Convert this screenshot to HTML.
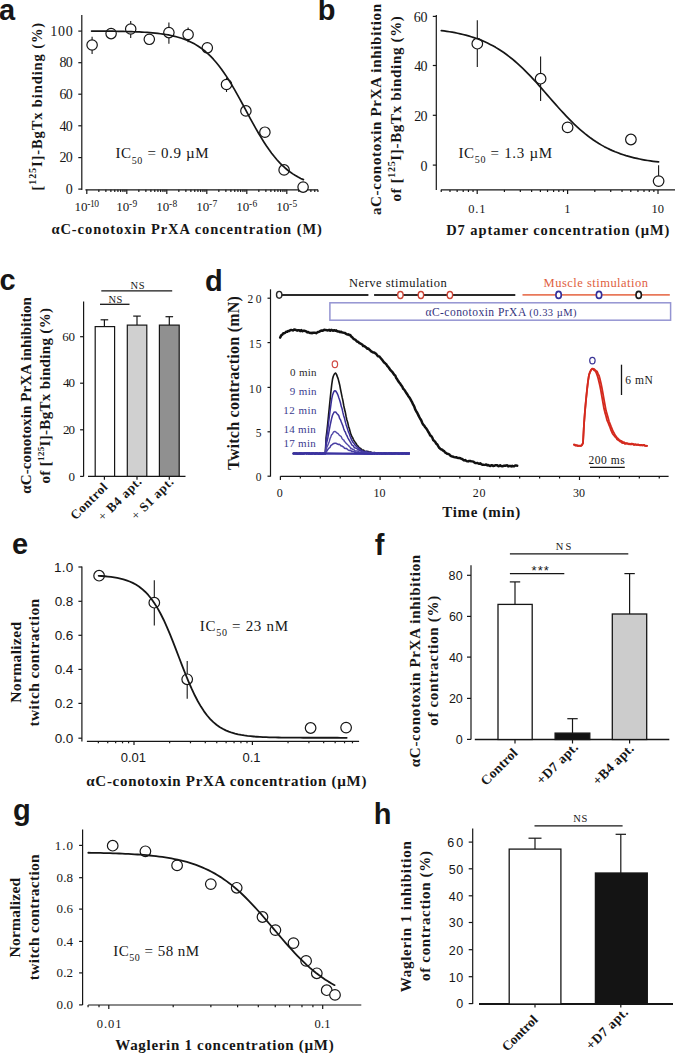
<!DOCTYPE html>
<html><head><meta charset="utf-8"><style>
html,body{margin:0;padding:0;background:#fff;overflow:hidden;}
svg{display:block;}
</style></head><body>
<svg width="675" height="1053" viewBox="0 0 675 1053">
<rect x="0" y="0" width="675" height="1053" fill="#fff"/>
<text x="-1" y="20.4" font-family="'Liberation Sans', sans-serif" font-size="29" font-weight="bold" fill="#161616" text-anchor="start">a</text>
<line x1="81.8" y1="15" x2="81.8" y2="190" stroke="#161616" stroke-width="1.2" stroke-linecap="butt"/>
<line x1="78.3" y1="189.1" x2="81.8" y2="189.1" stroke="#161616" stroke-width="1.2" stroke-linecap="butt"/>
<text x="72.8" y="193.8" font-family="'Liberation Serif', serif" font-size="14" font-weight="normal" fill="#161616" text-anchor="end" textLength="6.6" lengthAdjust="spacing">0</text>
<line x1="78.3" y1="157.6" x2="81.8" y2="157.6" stroke="#161616" stroke-width="1.2" stroke-linecap="butt"/>
<text x="72.8" y="162.3" font-family="'Liberation Serif', serif" font-size="14" font-weight="normal" fill="#161616" text-anchor="end" textLength="13.2" lengthAdjust="spacing">20</text>
<line x1="78.3" y1="125.8" x2="81.8" y2="125.8" stroke="#161616" stroke-width="1.2" stroke-linecap="butt"/>
<text x="72.8" y="130.5" font-family="'Liberation Serif', serif" font-size="14" font-weight="normal" fill="#161616" text-anchor="end" textLength="13.2" lengthAdjust="spacing">40</text>
<line x1="78.3" y1="94.2" x2="81.8" y2="94.2" stroke="#161616" stroke-width="1.2" stroke-linecap="butt"/>
<text x="72.8" y="98.9" font-family="'Liberation Serif', serif" font-size="14" font-weight="normal" fill="#161616" text-anchor="end" textLength="13.2" lengthAdjust="spacing">60</text>
<line x1="78.3" y1="62.7" x2="81.8" y2="62.7" stroke="#161616" stroke-width="1.2" stroke-linecap="butt"/>
<text x="72.8" y="67.4" font-family="'Liberation Serif', serif" font-size="14" font-weight="normal" fill="#161616" text-anchor="end" textLength="13.2" lengthAdjust="spacing">80</text>
<line x1="78.3" y1="31.1" x2="81.8" y2="31.1" stroke="#161616" stroke-width="1.2" stroke-linecap="butt"/>
<text x="72.8" y="35.8" font-family="'Liberation Serif', serif" font-size="14" font-weight="normal" fill="#161616" text-anchor="end" textLength="22.6" lengthAdjust="spacing">100</text>
<line x1="85.4" y1="189.8" x2="318" y2="189.8" stroke="#161616" stroke-width="1.2" stroke-linecap="butt"/>
<line x1="86.8" y1="189.8" x2="86.8" y2="194" stroke="#161616" stroke-width="1.2" stroke-linecap="butt"/>
<line x1="98.84" y1="189.8" x2="98.84" y2="192" stroke="#161616" stroke-width="1.2" stroke-linecap="butt"/>
<line x1="105.88" y1="189.8" x2="105.88" y2="192" stroke="#161616" stroke-width="1.2" stroke-linecap="butt"/>
<line x1="110.88" y1="189.8" x2="110.88" y2="192" stroke="#161616" stroke-width="1.2" stroke-linecap="butt"/>
<line x1="114.76" y1="189.8" x2="114.76" y2="192" stroke="#161616" stroke-width="1.2" stroke-linecap="butt"/>
<line x1="117.93" y1="189.8" x2="117.93" y2="192" stroke="#161616" stroke-width="1.2" stroke-linecap="butt"/>
<line x1="120.6" y1="189.8" x2="120.6" y2="192" stroke="#161616" stroke-width="1.2" stroke-linecap="butt"/>
<line x1="122.92" y1="189.8" x2="122.92" y2="192" stroke="#161616" stroke-width="1.2" stroke-linecap="butt"/>
<line x1="124.97" y1="189.8" x2="124.97" y2="192" stroke="#161616" stroke-width="1.2" stroke-linecap="butt"/>
<line x1="126.8" y1="189.8" x2="126.8" y2="194" stroke="#161616" stroke-width="1.2" stroke-linecap="butt"/>
<line x1="138.84" y1="189.8" x2="138.84" y2="192" stroke="#161616" stroke-width="1.2" stroke-linecap="butt"/>
<line x1="145.88" y1="189.8" x2="145.88" y2="192" stroke="#161616" stroke-width="1.2" stroke-linecap="butt"/>
<line x1="150.88" y1="189.8" x2="150.88" y2="192" stroke="#161616" stroke-width="1.2" stroke-linecap="butt"/>
<line x1="154.76" y1="189.8" x2="154.76" y2="192" stroke="#161616" stroke-width="1.2" stroke-linecap="butt"/>
<line x1="157.93" y1="189.8" x2="157.93" y2="192" stroke="#161616" stroke-width="1.2" stroke-linecap="butt"/>
<line x1="160.6" y1="189.8" x2="160.6" y2="192" stroke="#161616" stroke-width="1.2" stroke-linecap="butt"/>
<line x1="162.92" y1="189.8" x2="162.92" y2="192" stroke="#161616" stroke-width="1.2" stroke-linecap="butt"/>
<line x1="164.97" y1="189.8" x2="164.97" y2="192" stroke="#161616" stroke-width="1.2" stroke-linecap="butt"/>
<line x1="166.8" y1="189.8" x2="166.8" y2="194" stroke="#161616" stroke-width="1.2" stroke-linecap="butt"/>
<line x1="178.84" y1="189.8" x2="178.84" y2="192" stroke="#161616" stroke-width="1.2" stroke-linecap="butt"/>
<line x1="185.88" y1="189.8" x2="185.88" y2="192" stroke="#161616" stroke-width="1.2" stroke-linecap="butt"/>
<line x1="190.88" y1="189.8" x2="190.88" y2="192" stroke="#161616" stroke-width="1.2" stroke-linecap="butt"/>
<line x1="194.76" y1="189.8" x2="194.76" y2="192" stroke="#161616" stroke-width="1.2" stroke-linecap="butt"/>
<line x1="197.93" y1="189.8" x2="197.93" y2="192" stroke="#161616" stroke-width="1.2" stroke-linecap="butt"/>
<line x1="200.6" y1="189.8" x2="200.6" y2="192" stroke="#161616" stroke-width="1.2" stroke-linecap="butt"/>
<line x1="202.92" y1="189.8" x2="202.92" y2="192" stroke="#161616" stroke-width="1.2" stroke-linecap="butt"/>
<line x1="204.97" y1="189.8" x2="204.97" y2="192" stroke="#161616" stroke-width="1.2" stroke-linecap="butt"/>
<line x1="206.8" y1="189.8" x2="206.8" y2="194" stroke="#161616" stroke-width="1.2" stroke-linecap="butt"/>
<line x1="218.84" y1="189.8" x2="218.84" y2="192" stroke="#161616" stroke-width="1.2" stroke-linecap="butt"/>
<line x1="225.88" y1="189.8" x2="225.88" y2="192" stroke="#161616" stroke-width="1.2" stroke-linecap="butt"/>
<line x1="230.88" y1="189.8" x2="230.88" y2="192" stroke="#161616" stroke-width="1.2" stroke-linecap="butt"/>
<line x1="234.76" y1="189.8" x2="234.76" y2="192" stroke="#161616" stroke-width="1.2" stroke-linecap="butt"/>
<line x1="237.93" y1="189.8" x2="237.93" y2="192" stroke="#161616" stroke-width="1.2" stroke-linecap="butt"/>
<line x1="240.6" y1="189.8" x2="240.6" y2="192" stroke="#161616" stroke-width="1.2" stroke-linecap="butt"/>
<line x1="242.92" y1="189.8" x2="242.92" y2="192" stroke="#161616" stroke-width="1.2" stroke-linecap="butt"/>
<line x1="244.97" y1="189.8" x2="244.97" y2="192" stroke="#161616" stroke-width="1.2" stroke-linecap="butt"/>
<line x1="246.8" y1="189.8" x2="246.8" y2="194" stroke="#161616" stroke-width="1.2" stroke-linecap="butt"/>
<line x1="258.84" y1="189.8" x2="258.84" y2="192" stroke="#161616" stroke-width="1.2" stroke-linecap="butt"/>
<line x1="265.88" y1="189.8" x2="265.88" y2="192" stroke="#161616" stroke-width="1.2" stroke-linecap="butt"/>
<line x1="270.88" y1="189.8" x2="270.88" y2="192" stroke="#161616" stroke-width="1.2" stroke-linecap="butt"/>
<line x1="274.76" y1="189.8" x2="274.76" y2="192" stroke="#161616" stroke-width="1.2" stroke-linecap="butt"/>
<line x1="277.93" y1="189.8" x2="277.93" y2="192" stroke="#161616" stroke-width="1.2" stroke-linecap="butt"/>
<line x1="280.6" y1="189.8" x2="280.6" y2="192" stroke="#161616" stroke-width="1.2" stroke-linecap="butt"/>
<line x1="282.92" y1="189.8" x2="282.92" y2="192" stroke="#161616" stroke-width="1.2" stroke-linecap="butt"/>
<line x1="284.97" y1="189.8" x2="284.97" y2="192" stroke="#161616" stroke-width="1.2" stroke-linecap="butt"/>
<line x1="286.8" y1="189.8" x2="286.8" y2="194" stroke="#161616" stroke-width="1.2" stroke-linecap="butt"/>
<line x1="298.84" y1="189.8" x2="298.84" y2="192" stroke="#161616" stroke-width="1.2" stroke-linecap="butt"/>
<line x1="305.88" y1="189.8" x2="305.88" y2="192" stroke="#161616" stroke-width="1.2" stroke-linecap="butt"/>
<line x1="310.88" y1="189.8" x2="310.88" y2="192" stroke="#161616" stroke-width="1.2" stroke-linecap="butt"/>
<line x1="314.76" y1="189.8" x2="314.76" y2="192" stroke="#161616" stroke-width="1.2" stroke-linecap="butt"/>
<line x1="317.93" y1="189.8" x2="317.93" y2="192" stroke="#161616" stroke-width="1.2" stroke-linecap="butt"/>
<text x="74.5" y="211" font-family="'Liberation Serif', serif" font-size="13" font-weight="normal" fill="#161616" text-anchor="start">10</text>
<text x="87.3" y="207.4" font-family="'Liberation Serif', serif" font-size="9.5" font-weight="normal" fill="#161616" text-anchor="start" textLength="11.6" lengthAdjust="spacing">-10</text>
<text x="116.2" y="211" font-family="'Liberation Serif', serif" font-size="13" font-weight="normal" fill="#161616" text-anchor="start">10</text>
<text x="129" y="207.4" font-family="'Liberation Serif', serif" font-size="9.5" font-weight="normal" fill="#161616" text-anchor="start" textLength="8.2" lengthAdjust="spacing">-9</text>
<text x="156.2" y="211" font-family="'Liberation Serif', serif" font-size="13" font-weight="normal" fill="#161616" text-anchor="start">10</text>
<text x="169" y="207.4" font-family="'Liberation Serif', serif" font-size="9.5" font-weight="normal" fill="#161616" text-anchor="start" textLength="8.2" lengthAdjust="spacing">-8</text>
<text x="196.2" y="211" font-family="'Liberation Serif', serif" font-size="13" font-weight="normal" fill="#161616" text-anchor="start">10</text>
<text x="209" y="207.4" font-family="'Liberation Serif', serif" font-size="9.5" font-weight="normal" fill="#161616" text-anchor="start" textLength="8.2" lengthAdjust="spacing">-7</text>
<text x="236.2" y="211" font-family="'Liberation Serif', serif" font-size="13" font-weight="normal" fill="#161616" text-anchor="start">10</text>
<text x="249" y="207.4" font-family="'Liberation Serif', serif" font-size="9.5" font-weight="normal" fill="#161616" text-anchor="start" textLength="8.2" lengthAdjust="spacing">-6</text>
<text x="276.2" y="211" font-family="'Liberation Serif', serif" font-size="13" font-weight="normal" fill="#161616" text-anchor="start">10</text>
<text x="289" y="207.4" font-family="'Liberation Serif', serif" font-size="9.5" font-weight="normal" fill="#161616" text-anchor="start" textLength="8.2" lengthAdjust="spacing">-5</text>
<line x1="92.1" y1="36.7" x2="92.1" y2="54.1" stroke="#161616" stroke-width="1.1" stroke-linecap="butt"/>
<circle cx="92.1" cy="45" r="5.2" stroke="#161616" stroke-width="1.2" fill="#fff"/>
<circle cx="111.1" cy="33.6" r="5.2" stroke="#161616" stroke-width="1.2" fill="#fff"/>
<line x1="130.7" y1="21" x2="130.7" y2="37.9" stroke="#161616" stroke-width="1.1" stroke-linecap="butt"/>
<circle cx="130.7" cy="29" r="5.2" stroke="#161616" stroke-width="1.2" fill="#fff"/>
<circle cx="149.3" cy="39.3" r="5.2" stroke="#161616" stroke-width="1.2" fill="#fff"/>
<line x1="168.9" y1="22.4" x2="168.9" y2="43.8" stroke="#161616" stroke-width="1.1" stroke-linecap="butt"/>
<circle cx="168.9" cy="32.6" r="5.2" stroke="#161616" stroke-width="1.2" fill="#fff"/>
<line x1="188.1" y1="27.4" x2="188.1" y2="42.2" stroke="#161616" stroke-width="1.1" stroke-linecap="butt"/>
<circle cx="188.1" cy="34.5" r="5.2" stroke="#161616" stroke-width="1.2" fill="#fff"/>
<circle cx="207.3" cy="47.8" r="5.2" stroke="#161616" stroke-width="1.2" fill="#fff"/>
<line x1="226.5" y1="77.7" x2="226.5" y2="92" stroke="#161616" stroke-width="1.1" stroke-linecap="butt"/>
<circle cx="226.5" cy="84.5" r="5.2" stroke="#161616" stroke-width="1.2" fill="#fff"/>
<circle cx="245.9" cy="110.9" r="5.2" stroke="#161616" stroke-width="1.2" fill="#fff"/>
<circle cx="264.9" cy="132.2" r="5.2" stroke="#161616" stroke-width="1.2" fill="#fff"/>
<circle cx="284.1" cy="169.9" r="5.2" stroke="#161616" stroke-width="1.2" fill="#fff"/>
<circle cx="303.1" cy="187.1" r="5.2" stroke="#161616" stroke-width="1.2" fill="#fff"/>
<path d="M91.6 31.03 L94.25 31.05 L96.89 31.06 L99.54 31.08 L102.19 31.1 L104.84 31.13 L107.48 31.16 L110.13 31.19 L112.78 31.22 L115.43 31.26 L118.07 31.31 L120.72 31.36 L123.37 31.42 L126.02 31.48 L128.66 31.56 L131.31 31.64 L133.96 31.74 L136.61 31.84 L139.25 31.96 L141.9 32.1 L144.55 32.26 L147.2 32.43 L149.84 32.63 L152.49 32.86 L155.14 33.11 L157.79 33.4 L160.44 33.72 L163.08 34.08 L165.73 34.49 L168.38 34.96 L171.02 35.48 L173.67 36.06 L176.32 36.72 L178.97 37.45 L181.62 38.28 L184.26 39.21 L186.91 40.24 L189.56 41.4 L192.2 42.68 L194.85 44.12 L197.5 45.7 L200.15 47.46 L202.79 49.4 L205.44 51.53 L208.09 53.87 L210.74 56.43 L213.38 59.21 L216.03 62.22 L218.68 65.47 L221.33 68.95 L223.97 72.67 L226.62 76.62 L229.27 80.77 L231.92 85.13 L234.56 89.66 L237.21 94.33 L239.86 99.13 L242.51 104.01 L245.16 108.94 L247.8 113.88 L250.45 118.79 L253.1 123.63 L255.74 128.37 L258.39 132.99 L261.04 137.43 L263.69 141.7 L266.33 145.76 L268.98 149.59 L271.63 153.2 L274.28 156.57 L276.92 159.71 L279.57 162.61 L282.22 165.29 L284.87 167.74 L287.51 169.98 L290.16 172.02 L292.81 173.87 L295.46 175.54 L298.1 177.05 L300.75 178.41 L303.4 179.64" fill="none" stroke="#161616" stroke-width="1.7" stroke-linejoin="round" stroke-linecap="round"/>
<text x="115.4" y="158" font-family="'Liberation Serif', serif" font-size="15" font-weight="normal" fill="#161616" text-anchor="start" textLength="93.2" lengthAdjust="spacing">IC<tspan font-size="10" dy="5.5">50</tspan><tspan dy="-5.5"> = 0.9 µM</tspan></text>
<text x="51.4" y="233.8" font-family="'Liberation Serif', serif" font-size="14.5" font-weight="bold" fill="#161616" text-anchor="start" textLength="270.5" lengthAdjust="spacing">αC-conotoxin PrXA concentration (M)</text>
<text transform="translate(41.55 106.65) rotate(-90)" font-family="'Liberation Serif', serif" font-size="14.5" font-weight="bold" fill="#161616" text-anchor="middle" textLength="167.7" lengthAdjust="spacing">[<tspan font-size="10" dy="-5.5">125</tspan><tspan dy="5.5">I]-BgTx binding (%)</tspan></text>
<text x="317.8" y="20.4" font-family="'Liberation Sans', sans-serif" font-size="29" font-weight="bold" fill="#161616" text-anchor="start">b</text>
<line x1="436.3" y1="15" x2="436.3" y2="190" stroke="#161616" stroke-width="1.2" stroke-linecap="butt"/>
<line x1="432.8" y1="16.4" x2="436.3" y2="16.4" stroke="#161616" stroke-width="1.2" stroke-linecap="butt"/>
<text x="427.5" y="21.9" font-family="'Liberation Serif', serif" font-size="14" font-weight="normal" fill="#161616" text-anchor="end" textLength="13.8" lengthAdjust="spacing">60</text>
<line x1="432.8" y1="65.5" x2="436.3" y2="65.5" stroke="#161616" stroke-width="1.2" stroke-linecap="butt"/>
<text x="427.5" y="71" font-family="'Liberation Serif', serif" font-size="14" font-weight="normal" fill="#161616" text-anchor="end" textLength="13.2" lengthAdjust="spacing">40</text>
<line x1="432.8" y1="115.3" x2="436.3" y2="115.3" stroke="#161616" stroke-width="1.2" stroke-linecap="butt"/>
<text x="427.5" y="120.8" font-family="'Liberation Serif', serif" font-size="14" font-weight="normal" fill="#161616" text-anchor="end" textLength="13.2" lengthAdjust="spacing">20</text>
<line x1="432.8" y1="165.1" x2="436.3" y2="165.1" stroke="#161616" stroke-width="1.2" stroke-linecap="butt"/>
<text x="427.5" y="170.6" font-family="'Liberation Serif', serif" font-size="14" font-weight="normal" fill="#161616" text-anchor="end" textLength="6.6" lengthAdjust="spacing">0</text>
<line x1="440.8" y1="189.9" x2="675" y2="189.9" stroke="#161616" stroke-width="1.2" stroke-linecap="butt"/>
<line x1="477.2" y1="189.9" x2="477.2" y2="194" stroke="#161616" stroke-width="1.2" stroke-linecap="butt"/>
<text x="476.9" y="212.7" font-family="'Liberation Serif', serif" font-size="12.5" font-weight="normal" fill="#161616" text-anchor="middle" textLength="17.3" lengthAdjust="spacing">0.1</text>
<line x1="567.6" y1="189.9" x2="567.6" y2="194" stroke="#161616" stroke-width="1.2" stroke-linecap="butt"/>
<text x="567.3" y="212.7" font-family="'Liberation Serif', serif" font-size="12.5" font-weight="normal" fill="#161616" text-anchor="middle" textLength="6.2" lengthAdjust="spacing">1</text>
<line x1="658" y1="189.9" x2="658" y2="194" stroke="#161616" stroke-width="1.2" stroke-linecap="butt"/>
<text x="657.7" y="212.7" font-family="'Liberation Serif', serif" font-size="12.5" font-weight="normal" fill="#161616" text-anchor="middle" textLength="12.4" lengthAdjust="spacing">10</text>
<line x1="441.23" y1="189.9" x2="441.23" y2="192" stroke="#161616" stroke-width="1.2" stroke-linecap="butt"/>
<line x1="449.99" y1="189.9" x2="449.99" y2="192" stroke="#161616" stroke-width="1.2" stroke-linecap="butt"/>
<line x1="457.14" y1="189.9" x2="457.14" y2="192" stroke="#161616" stroke-width="1.2" stroke-linecap="butt"/>
<line x1="463.2" y1="189.9" x2="463.2" y2="192" stroke="#161616" stroke-width="1.2" stroke-linecap="butt"/>
<line x1="468.44" y1="189.9" x2="468.44" y2="192" stroke="#161616" stroke-width="1.2" stroke-linecap="butt"/>
<line x1="473.06" y1="189.9" x2="473.06" y2="192" stroke="#161616" stroke-width="1.2" stroke-linecap="butt"/>
<line x1="504.41" y1="189.9" x2="504.41" y2="192" stroke="#161616" stroke-width="1.2" stroke-linecap="butt"/>
<line x1="520.33" y1="189.9" x2="520.33" y2="192" stroke="#161616" stroke-width="1.2" stroke-linecap="butt"/>
<line x1="531.63" y1="189.9" x2="531.63" y2="192" stroke="#161616" stroke-width="1.2" stroke-linecap="butt"/>
<line x1="540.39" y1="189.9" x2="540.39" y2="192" stroke="#161616" stroke-width="1.2" stroke-linecap="butt"/>
<line x1="547.54" y1="189.9" x2="547.54" y2="192" stroke="#161616" stroke-width="1.2" stroke-linecap="butt"/>
<line x1="553.6" y1="189.9" x2="553.6" y2="192" stroke="#161616" stroke-width="1.2" stroke-linecap="butt"/>
<line x1="558.84" y1="189.9" x2="558.84" y2="192" stroke="#161616" stroke-width="1.2" stroke-linecap="butt"/>
<line x1="563.46" y1="189.9" x2="563.46" y2="192" stroke="#161616" stroke-width="1.2" stroke-linecap="butt"/>
<line x1="594.81" y1="189.9" x2="594.81" y2="192" stroke="#161616" stroke-width="1.2" stroke-linecap="butt"/>
<line x1="610.73" y1="189.9" x2="610.73" y2="192" stroke="#161616" stroke-width="1.2" stroke-linecap="butt"/>
<line x1="622.03" y1="189.9" x2="622.03" y2="192" stroke="#161616" stroke-width="1.2" stroke-linecap="butt"/>
<line x1="630.79" y1="189.9" x2="630.79" y2="192" stroke="#161616" stroke-width="1.2" stroke-linecap="butt"/>
<line x1="637.94" y1="189.9" x2="637.94" y2="192" stroke="#161616" stroke-width="1.2" stroke-linecap="butt"/>
<line x1="644" y1="189.9" x2="644" y2="192" stroke="#161616" stroke-width="1.2" stroke-linecap="butt"/>
<line x1="649.24" y1="189.9" x2="649.24" y2="192" stroke="#161616" stroke-width="1.2" stroke-linecap="butt"/>
<line x1="653.86" y1="189.9" x2="653.86" y2="192" stroke="#161616" stroke-width="1.2" stroke-linecap="butt"/>
<line x1="477.3" y1="20.3" x2="477.3" y2="67" stroke="#161616" stroke-width="1.1" stroke-linecap="butt"/>
<circle cx="477.3" cy="43.7" r="5.3" stroke="#161616" stroke-width="1.2" fill="#fff"/>
<line x1="540.6" y1="56.6" x2="540.6" y2="101" stroke="#161616" stroke-width="1.1" stroke-linecap="butt"/>
<circle cx="540.6" cy="78.7" r="5.3" stroke="#161616" stroke-width="1.2" fill="#fff"/>
<circle cx="567.6" cy="127.4" r="5.3" stroke="#161616" stroke-width="1.2" fill="#fff"/>
<circle cx="630.9" cy="139.5" r="5.3" stroke="#161616" stroke-width="1.2" fill="#fff"/>
<line x1="658.6" y1="165.3" x2="658.6" y2="176" stroke="#161616" stroke-width="1.1" stroke-linecap="butt"/>
<circle cx="658.6" cy="181.1" r="5.3" stroke="#161616" stroke-width="1.2" fill="#fff"/>
<path d="M441.3 30.58 L444.02 30.93 L446.73 31.32 L449.45 31.74 L452.17 32.2 L454.88 32.7 L457.6 33.24 L460.31 33.83 L463.03 34.47 L465.75 35.16 L468.46 35.9 L471.18 36.71 L473.9 37.58 L476.61 38.52 L479.33 39.53 L482.04 40.62 L484.76 41.79 L487.48 43.04 L490.19 44.39 L492.91 45.82 L495.62 47.36 L498.34 48.99 L501.06 50.72 L503.77 52.56 L506.49 54.51 L509.21 56.56 L511.92 58.72 L514.64 60.99 L517.36 63.37 L520.07 65.84 L522.79 68.42 L525.5 71.08 L528.22 73.84 L530.94 76.68 L533.65 79.58 L536.37 82.55 L539.09 85.58 L541.8 88.64 L544.52 91.74 L547.23 94.85 L549.95 97.96 L552.67 101.07 L555.38 104.16 L558.1 107.22 L560.82 110.23 L563.53 113.19 L566.25 116.08 L568.96 118.9 L571.68 121.64 L574.4 124.29 L577.11 126.84 L579.83 129.29 L582.55 131.64 L585.26 133.89 L587.98 136.03 L590.69 138.06 L593.41 139.98 L596.13 141.8 L598.84 143.51 L601.56 145.12 L604.27 146.63 L606.99 148.05 L609.71 149.37 L612.42 150.61 L615.14 151.76 L617.86 152.83 L620.57 153.83 L623.29 154.75 L626 155.61 L628.72 156.4 L631.44 157.13 L634.15 157.81 L636.87 158.44 L639.59 159.02 L642.3 159.55 L645.02 160.04 L647.74 160.49 L650.45 160.9 L653.17 161.29 L655.88 161.64 L658.6 161.96" fill="none" stroke="#161616" stroke-width="1.7" stroke-linejoin="round" stroke-linecap="round"/>
<text x="458.4" y="157.8" font-family="'Liberation Serif', serif" font-size="15" font-weight="normal" fill="#161616" text-anchor="start" textLength="93.7" lengthAdjust="spacing">IC<tspan font-size="10" dy="5.5">50</tspan><tspan dy="-5.5"> = 1.3 µM</tspan></text>
<text x="446.2" y="234.8" font-family="'Liberation Serif', serif" font-size="14.5" font-weight="bold" fill="#161616" text-anchor="start" textLength="223.2" lengthAdjust="spacing">D7 aptamer concentration (µM)</text>
<text transform="translate(381 109.5) rotate(-90)" font-family="'Liberation Serif', serif" font-size="15" font-weight="bold" fill="#161616" text-anchor="middle" textLength="211.2" lengthAdjust="spacing">aC-conotoxin PrXA inhibition</text>
<text transform="translate(400.8 108.9) rotate(-90)" font-family="'Liberation Serif', serif" font-size="15" font-weight="bold" fill="#161616" text-anchor="middle" textLength="185.4" lengthAdjust="spacing">of [<tspan font-size="10" dy="-6">125</tspan><tspan dy="6">I]-BgTx binding (%)</tspan></text>
<text x="-0.6" y="290.3" font-family="'Liberation Sans', sans-serif" font-size="29" font-weight="bold" fill="#161616" text-anchor="start">c</text>
<line x1="83.6" y1="301.5" x2="83.6" y2="476.5" stroke="#161616" stroke-width="1.2" stroke-linecap="butt"/>
<line x1="80.1" y1="336.7" x2="83.6" y2="336.7" stroke="#161616" stroke-width="1.2" stroke-linecap="butt"/>
<text x="75.1" y="340.9" font-family="'Liberation Serif', serif" font-size="13" font-weight="normal" fill="#161616" text-anchor="end" textLength="12.8" lengthAdjust="spacing">60</text>
<line x1="80.1" y1="383.2" x2="83.6" y2="383.2" stroke="#161616" stroke-width="1.2" stroke-linecap="butt"/>
<text x="75.1" y="387.4" font-family="'Liberation Serif', serif" font-size="13" font-weight="normal" fill="#161616" text-anchor="end" textLength="12.2" lengthAdjust="spacing">40</text>
<line x1="80.1" y1="429.8" x2="83.6" y2="429.8" stroke="#161616" stroke-width="1.2" stroke-linecap="butt"/>
<text x="75.1" y="434" font-family="'Liberation Serif', serif" font-size="13" font-weight="normal" fill="#161616" text-anchor="end" textLength="12.2" lengthAdjust="spacing">20</text>
<line x1="80.1" y1="476.4" x2="83.6" y2="476.4" stroke="#161616" stroke-width="1.2" stroke-linecap="butt"/>
<text x="75.1" y="480.6" font-family="'Liberation Serif', serif" font-size="13" font-weight="normal" fill="#161616" text-anchor="end" textLength="6.1" lengthAdjust="spacing">0</text>
<line x1="88" y1="476.3" x2="185.5" y2="476.3" stroke="#161616" stroke-width="1.2" stroke-linecap="butt"/>
<line x1="104.4" y1="319.8" x2="104.4" y2="326.6" stroke="#161616" stroke-width="1.2" stroke-linecap="butt"/>
<line x1="100.6" y1="319.8" x2="108.2" y2="319.8" stroke="#161616" stroke-width="1.2" stroke-linecap="butt"/>
<rect x="95.2" y="326.6" width="19.4" height="149.7" fill="#ffffff" stroke="#161616" stroke-width="1.2"/>
<line x1="104.4" y1="476.3" x2="104.4" y2="479.8" stroke="#161616" stroke-width="1.2" stroke-linecap="butt"/>
<line x1="137" y1="316.1" x2="137" y2="325.1" stroke="#161616" stroke-width="1.2" stroke-linecap="butt"/>
<line x1="133.2" y1="316.1" x2="140.8" y2="316.1" stroke="#161616" stroke-width="1.2" stroke-linecap="butt"/>
<rect x="127.3" y="325.1" width="19.5" height="151.2" fill="#d0d0d0" stroke="#161616" stroke-width="1.2"/>
<line x1="137" y1="476.3" x2="137" y2="479.8" stroke="#161616" stroke-width="1.2" stroke-linecap="butt"/>
<line x1="169.3" y1="316.7" x2="169.3" y2="325.1" stroke="#161616" stroke-width="1.2" stroke-linecap="butt"/>
<line x1="165.5" y1="316.7" x2="173.1" y2="316.7" stroke="#161616" stroke-width="1.2" stroke-linecap="butt"/>
<rect x="159.4" y="325.1" width="19.8" height="151.2" fill="#909090" stroke="#161616" stroke-width="1.2"/>
<line x1="169.3" y1="476.3" x2="169.3" y2="479.8" stroke="#161616" stroke-width="1.2" stroke-linecap="butt"/>
<line x1="101.3" y1="290.8" x2="172.2" y2="290.8" stroke="#161616" stroke-width="1.3" stroke-linecap="butt"/>
<text x="137.5" y="288.6" font-family="'Liberation Serif', serif" font-size="10.5" font-weight="normal" fill="#161616" text-anchor="middle" textLength="14.2" lengthAdjust="spacing">NS</text>
<line x1="100" y1="304.3" x2="129.5" y2="304.3" stroke="#161616" stroke-width="1.3" stroke-linecap="butt"/>
<text x="115.4" y="302.6" font-family="'Liberation Serif', serif" font-size="10.5" font-weight="normal" fill="#161616" text-anchor="middle" textLength="13.8" lengthAdjust="spacing">NS</text>
<text transform="translate(108.2 488) rotate(-45)" font-family="'Liberation Serif', serif" font-size="13" font-weight="bold" fill="#161616" text-anchor="end" textLength="46.14" lengthAdjust="spacing">Control</text>
<text transform="translate(142.4 482.4) rotate(-45)" font-family="'Liberation Serif', serif" font-size="13" font-weight="bold" fill="#161616" text-anchor="end" textLength="55.69" lengthAdjust="spacing"><tspan font-weight="normal">+</tspan> B4 apt.</text>
<text transform="translate(174.2 482.8) rotate(-45)" font-family="'Liberation Serif', serif" font-size="13" font-weight="bold" fill="#161616" text-anchor="end" textLength="53.83" lengthAdjust="spacing"><tspan font-weight="normal">+</tspan> S1 apt.</text>
<text transform="translate(30.95 395.45) rotate(-90)" font-family="'Liberation Serif', serif" font-size="15" font-weight="bold" fill="#161616" text-anchor="middle" textLength="196.7" lengthAdjust="spacing">αC-conotoxin PrXA inhibition</text>
<text transform="translate(50.45 395.75) rotate(-90)" font-family="'Liberation Serif', serif" font-size="15" font-weight="bold" fill="#161616" text-anchor="middle" textLength="175.5" lengthAdjust="spacing">of [<tspan font-size="9" dy="-6">125</tspan><tspan dy="6">I]-BgTx binding (%)</tspan></text>
<text x="205.1" y="290.9" font-family="'Liberation Sans', sans-serif" font-size="29" font-weight="bold" fill="#161616" text-anchor="start">d</text>
<line x1="270.5" y1="289.3" x2="270.5" y2="476.6" stroke="#161616" stroke-width="1.2" stroke-linecap="butt"/>
<line x1="267.5" y1="298.2" x2="270.5" y2="298.2" stroke="#161616" stroke-width="1.2" stroke-linecap="butt"/>
<text x="261.5" y="303.4" font-family="'Liberation Serif', serif" font-size="11.5" font-weight="normal" fill="#161616" text-anchor="end" textLength="14.1" lengthAdjust="spacing">20</text>
<line x1="267.5" y1="342.6" x2="270.5" y2="342.6" stroke="#161616" stroke-width="1.2" stroke-linecap="butt"/>
<text x="261.5" y="347.8" font-family="'Liberation Serif', serif" font-size="11.5" font-weight="normal" fill="#161616" text-anchor="end" textLength="12.5" lengthAdjust="spacing">15</text>
<line x1="267.5" y1="387.4" x2="270.5" y2="387.4" stroke="#161616" stroke-width="1.2" stroke-linecap="butt"/>
<text x="261.5" y="392.6" font-family="'Liberation Serif', serif" font-size="11.5" font-weight="normal" fill="#161616" text-anchor="end" textLength="12.5" lengthAdjust="spacing">10</text>
<line x1="267.5" y1="431.8" x2="270.5" y2="431.8" stroke="#161616" stroke-width="1.2" stroke-linecap="butt"/>
<text x="261.5" y="437" font-family="'Liberation Serif', serif" font-size="11.5" font-weight="normal" fill="#161616" text-anchor="end" textLength="5.6" lengthAdjust="spacing">5</text>
<line x1="267.5" y1="476.2" x2="270.5" y2="476.2" stroke="#161616" stroke-width="1.2" stroke-linecap="butt"/>
<text x="261.5" y="481.4" font-family="'Liberation Serif', serif" font-size="11.5" font-weight="normal" fill="#161616" text-anchor="end" textLength="5.6" lengthAdjust="spacing">0</text>
<line x1="280.4" y1="476.3" x2="668.6" y2="476.3" stroke="#161616" stroke-width="1.2" stroke-linecap="butt"/>
<line x1="280.4" y1="476.3" x2="280.4" y2="480" stroke="#161616" stroke-width="1.2" stroke-linecap="butt"/>
<line x1="300.34" y1="476.3" x2="300.34" y2="478.5" stroke="#161616" stroke-width="1.2" stroke-linecap="butt"/>
<line x1="320.28" y1="476.3" x2="320.28" y2="478.5" stroke="#161616" stroke-width="1.2" stroke-linecap="butt"/>
<line x1="340.22" y1="476.3" x2="340.22" y2="478.5" stroke="#161616" stroke-width="1.2" stroke-linecap="butt"/>
<line x1="360.16" y1="476.3" x2="360.16" y2="478.5" stroke="#161616" stroke-width="1.2" stroke-linecap="butt"/>
<line x1="380.1" y1="476.3" x2="380.1" y2="480" stroke="#161616" stroke-width="1.2" stroke-linecap="butt"/>
<line x1="400.04" y1="476.3" x2="400.04" y2="478.5" stroke="#161616" stroke-width="1.2" stroke-linecap="butt"/>
<line x1="419.98" y1="476.3" x2="419.98" y2="478.5" stroke="#161616" stroke-width="1.2" stroke-linecap="butt"/>
<line x1="439.92" y1="476.3" x2="439.92" y2="478.5" stroke="#161616" stroke-width="1.2" stroke-linecap="butt"/>
<line x1="459.86" y1="476.3" x2="459.86" y2="478.5" stroke="#161616" stroke-width="1.2" stroke-linecap="butt"/>
<line x1="479.8" y1="476.3" x2="479.8" y2="480" stroke="#161616" stroke-width="1.2" stroke-linecap="butt"/>
<line x1="499.74" y1="476.3" x2="499.74" y2="478.5" stroke="#161616" stroke-width="1.2" stroke-linecap="butt"/>
<line x1="519.68" y1="476.3" x2="519.68" y2="478.5" stroke="#161616" stroke-width="1.2" stroke-linecap="butt"/>
<line x1="539.62" y1="476.3" x2="539.62" y2="478.5" stroke="#161616" stroke-width="1.2" stroke-linecap="butt"/>
<line x1="559.56" y1="476.3" x2="559.56" y2="478.5" stroke="#161616" stroke-width="1.2" stroke-linecap="butt"/>
<line x1="579.5" y1="476.3" x2="579.5" y2="480" stroke="#161616" stroke-width="1.2" stroke-linecap="butt"/>
<line x1="599.44" y1="476.3" x2="599.44" y2="478.5" stroke="#161616" stroke-width="1.2" stroke-linecap="butt"/>
<line x1="619.38" y1="476.3" x2="619.38" y2="478.5" stroke="#161616" stroke-width="1.2" stroke-linecap="butt"/>
<line x1="639.32" y1="476.3" x2="639.32" y2="478.5" stroke="#161616" stroke-width="1.2" stroke-linecap="butt"/>
<line x1="659.26" y1="476.3" x2="659.26" y2="478.5" stroke="#161616" stroke-width="1.2" stroke-linecap="butt"/>
<text x="279.8" y="497.4" font-family="'Liberation Serif', serif" font-size="12" font-weight="normal" fill="#161616" text-anchor="middle" textLength="6" lengthAdjust="spacing">0</text>
<text x="379.5" y="497.4" font-family="'Liberation Serif', serif" font-size="12" font-weight="normal" fill="#161616" text-anchor="middle" textLength="12" lengthAdjust="spacing">10</text>
<text x="479.2" y="497.4" font-family="'Liberation Serif', serif" font-size="12" font-weight="normal" fill="#161616" text-anchor="middle" textLength="12.8" lengthAdjust="spacing">20</text>
<text x="578.9" y="497.4" font-family="'Liberation Serif', serif" font-size="12" font-weight="normal" fill="#161616" text-anchor="middle" textLength="12" lengthAdjust="spacing">30</text>
<text x="442.3" y="516.8" font-family="'Liberation Serif', serif" font-size="15" font-weight="bold" fill="#161616" text-anchor="start" textLength="78" lengthAdjust="spacing">Time (min)</text>
<text transform="translate(239.2 383) rotate(-90)" font-family="'Liberation Serif', serif" font-size="16" font-weight="bold" fill="#161616" text-anchor="middle" textLength="173.8" lengthAdjust="spacing">Twitch contraction (mN)</text>
<line x1="282" y1="295" x2="368.4" y2="295" stroke="#2a2a2a" stroke-width="1.8" stroke-linecap="butt"/>
<line x1="374.1" y1="295" x2="515.3" y2="295" stroke="#2a2a2a" stroke-width="1.8" stroke-linecap="butt"/>
<line x1="522.5" y1="294.9" x2="669.8" y2="294.9" stroke="#e8785a" stroke-width="1.9" stroke-linecap="butt"/>
<ellipse cx="279.2" cy="294.8" rx="2.7" ry="3.4" stroke="#2a2a2a" stroke-width="1.4" fill="#fff"/>
<ellipse cx="400.4" cy="295" rx="2.7" ry="3.5" stroke="#cc4436" stroke-width="1.4" fill="#fff"/>
<ellipse cx="420.9" cy="295" rx="2.7" ry="3.5" stroke="#cc4436" stroke-width="1.4" fill="#fff"/>
<ellipse cx="449.9" cy="295" rx="2.7" ry="3.5" stroke="#cc4436" stroke-width="1.4" fill="#fff"/>
<ellipse cx="558.6" cy="294.9" rx="2.7" ry="3.5" stroke="#34309a" stroke-width="1.6" fill="#fff"/>
<ellipse cx="599" cy="294.9" rx="2.7" ry="3.5" stroke="#34309a" stroke-width="1.6" fill="#fff"/>
<ellipse cx="638.7" cy="294.9" rx="2.7" ry="3.5" stroke="#1a1a1a" stroke-width="1.6" fill="#fff"/>
<text x="349.1" y="287.4" font-family="'Liberation Serif', serif" font-size="12.5" font-weight="normal" fill="#161616" text-anchor="start" textLength="97.7" lengthAdjust="spacing">Nerve stimulation</text>
<text x="543.6" y="286.9" font-family="'Liberation Serif', serif" font-size="12.5" font-weight="normal" fill="#e0603e" text-anchor="start" textLength="104.4" lengthAdjust="spacing">Muscle stimulation</text>
<rect x="329.9" y="302.8" width="340.7" height="17.4" fill="none" stroke="#9494d2" stroke-width="1.5"/>
<text x="425.4" y="316" font-family="'Liberation Serif', serif" font-size="11.5" font-weight="normal" fill="#34347e" text-anchor="start" textLength="151.1" lengthAdjust="spacing">αC-conotoxin PrXA <tspan font-size="10.5">(0.33 µM)</tspan></text>
<path d="M280.2 337.59 L281.2 335.37 L282.2 334.78 L283.2 333.37 L284.2 333.36 L285.2 332.64 L286.2 331.78 L287.2 331.87 L288.2 330.9 L289.2 330.99 L290.2 330.21 L291.2 329.95 L292.2 330.13 L293.2 330.45 L294.2 329.52 L295.2 329.62 L296.2 330.16 L297.2 330.63 L298.2 330.31 L299.2 330.25 L300.2 331.11 L301.2 330.16 L302.2 331.3 L303.2 330.79 L304.2 330.8 L305.2 331 L306.2 331.49 L307.2 332.37 L308.2 331.89 L309.2 332.64 L310.2 332.96 L311.2 332.85 L312.2 333.22 L313.2 332.75 L314.2 332.77 L315.2 332.83 L316.2 333.16 L317.2 332.51 L318.2 331.93 L319.2 331.77 L320.2 331.14 L321.2 330.53 L322.2 330.8 L323.2 330.46 L324.2 329.77 L325.2 330.11 L326.2 330.03 L327.2 330.45 L328.2 330.31 L329.2 329.83 L330.2 330.73 L331.2 329.79 L332.2 330.25 L333.2 330.78 L334.2 330.19 L335.2 330.75 L336.2 330.37 L337.2 331.3 L338.2 331.61 L339.2 331.59 L340.2 332.17 L341.2 331.74 L342.2 332.46 L343.2 332.62 L344.2 332.91 L345.2 333.1 L346.2 333.93 L347.2 334.48 L348.2 334.37 L349.2 335.12 L350.2 334.99 L351.2 336.49 L352.2 337.25 L353.2 338.56 L354.2 339.3 L355.2 339.59 L356.2 340.61 L357.2 341.78 L358.2 341.77 L359.2 343 L360.2 343.34 L361.2 343.95 L362.2 344.54 L363.2 346.05 L364.2 345.93 L365.2 346.71 L366.2 347.52 L367.2 348.74 L368.2 348.43 L369.2 349.52 L370.2 350.29 L371.2 351.33 L372.2 351.86 L373.2 352.51 L374.2 352.41 L375.2 353.23 L376.2 353.89 L377.2 355.35 L378.2 356.37 L379.2 356.41 L380.2 357.52 L381.2 358.71 L382.2 359.87 L383.2 361.33 L384.2 362.61 L385.2 363.35 L386.2 364.16 L387.2 365.79 L388.2 366.86 L389.2 368.25 L390.2 369.89 L391.2 370.79 L392.2 371.84 L393.2 373.27 L394.2 374.72 L395.2 375.41 L396.2 377.93 L397.2 379.33 L398.2 381.03 L399.2 382.54 L400.2 383.67 L401.2 385.29 L402.2 386.54 L403.2 388.76 L404.2 389.62 L405.2 391.13 L406.2 392.8 L407.2 394.24 L408.2 395.98 L409.2 397.2 L410.2 398.77 L411.2 400.66 L412.2 402.42 L413.2 404.67 L414.2 406.3 L415.2 409.41 L416.2 411.2 L417.2 412.72 L418.2 414.86 L419.2 416.9 L420.2 418.74 L421.2 420.21 L422.2 422.79 L423.2 424.62 L424.2 425.62 L425.2 427.24 L426.2 428.34 L427.2 429.92 L428.2 431.74 L429.2 433.17 L430.2 435.36 L431.2 436.07 L432.2 437.41 L433.2 440.01 L434.2 440.95 L435.2 441.91 L436.2 443.72 L437.2 444.37 L438.2 446.16 L439.2 447.8 L440.2 448.68 L441.2 449.43 L442.2 449.79 L443.2 450.72 L444.2 451.22 L445.2 452.63 L446.2 452.97 L447.2 453.87 L448.2 453.9 L449.2 454.3 L450.2 455.49 L451.2 456.15 L452.2 456.42 L453.2 456.75 L454.2 457.14 L455.2 457.41 L456.2 457.14 L457.2 457.82 L458.2 457.95 L459.2 457.88 L460.2 458.19 L461.2 458.8 L462.2 459.06 L463.2 459.85 L464.2 460.43 L465.2 460.07 L466.2 460.89 L467.2 461.19 L468.2 461.38 L469.2 460.9 L470.2 460.95 L471.2 461.19 L472.2 461.38 L473.2 461.62 L474.2 462.37 L475.2 462.94 L476.2 463.12 L477.2 462.94 L478.2 463.4 L479.2 463.82 L480.2 463.21 L481.2 464.14 L482.2 464.66 L483.2 464.72 L484.2 464.88 L485.2 464.74 L486.2 464.54 L487.2 465.41 L488.2 464.98 L489.2 465.64 L490.2 465.93 L491.2 465.31 L492.2 465.37 L493.2 466.06 L494.2 465.83 L495.2 465.19 L496.2 465.16 L497.2 465.21 L498.2 466.14 L499.2 466.05 L500.2 465.28 L501.2 466.12 L502.2 466.33 L503.2 465.96 L504.2 465.61 L505.2 465.86 L506.2 465.37 L507.2 465.24 L508.2 466.4 L509.2 466.02 L510.2 465.88 L511.2 466.38 L512.2 465.78 L513.2 466.32 L514.2 466.27 L515.2 465.54 L516.2 465.59 L517.2 465.65" fill="none" stroke="#111" stroke-width="2.5" stroke-linejoin="round" stroke-linecap="round"/>
<path d="M293.3 453.14 L294.1 453.49 L294.9 453.17 L295.7 453.33 L296.5 453.05 L297.3 453.83 L298.1 453.28 L298.9 453.39 L299.7 453.52 L300.5 453.85 L301.3 453.37 L302.1 453.87 L302.9 453.46 L303.7 453.5 L304.5 453.49 L305.3 452.99 L306.1 453.42 L306.9 453.17 L307.7 452.99 L308.5 453.79 L309.3 453.17 L310.1 453.47 L310.9 453.72 L311.7 453.56 L312.5 453.33 L313.3 453.52 L314.1 453.56 L314.9 453.79 L315.7 453.11 L316.5 453.56 L317.3 453.25 L318.1 453.27 L318.9 453.76 L319.7 453.49 L320.5 453.53 L321.3 453.72 L322.1 453.85 L322.9 453.36 L323.7 453.52 L324.5 453.43 L325.3 453.55 L326.1 437.63 L326.9 431 L327.7 423.89 L328.5 415.68 L329.3 407.67 L330.1 399.47 L330.9 391.78 L331.7 384.89 L332.5 379.3 L333.3 376.24 L334.1 374.49 L334.9 373.44 L335.7 373.07 L336.5 374.36 L337.3 376.63 L338.1 378.62 L338.9 381.69 L339.7 384.95 L340.5 389.25 L341.3 393.13 L342.1 397.19 L342.9 400.6 L343.7 405.26 L344.5 409.05 L345.3 412.18 L346.1 416.46 L346.9 419.93 L347.7 422.41 L348.5 426.19 L349.3 428.59 L350.1 431.42 L350.9 434.35 L351.7 436.3 L352.5 437.42 L353.3 439.26 L354.1 440.75 L354.9 441.87 L355.7 442.95 L356.5 444.24 L357.3 445.75 L358.1 446.06 L358.9 447.48 L359.7 448.12 L360.5 448.34 L361.3 449.2 L362.1 449.94 L362.9 450.22 L363.7 450.12 L364.5 451.34 L365.3 451.42 L366.1 451.86 L366.9 451.24 L367.7 451.62 L368.5 451.58 L369.3 452.49 L370.1 452.12 L370.9 452.11 L371.7 452.52 L372.5 453.12 L373.3 453.13 L374.1 452.66 L374.9 452.66 L375.7 453.53 L376.5 453.28 L377.3 453.47 L378.1 452.9 L378.9 452.9 L379.7 453.55 L380.5 453.3 L381.3 452.96 L382.1 453.84 L382.9 453.54 L383.7 453.72 L384.5 453.01 L385.3 453.78 L386.1 452.99 L386.9 453.79 L387.7 453.39 L388.5 453.27 L389.3 453.49 L390.1 453.86 L390.9 453.2 L391.7 453.06 L392.5 453.46 L393.3 453.17 L394.1 453.04 L394.9 453.09 L395.7 452.98 L396.5 453.13 L397.3 453.24 L398.1 453.23 L398.9 453.68 L399.7 453.21 L400.5 453.42 L401.3 453.1 L402.1 453.26 L402.9 452.93 L403.7 453.16 L404.5 452.93 L405.3 453.64 L406.1 453.46 L406.9 453.09 L407.7 453.38 L408.5 453.84 L409.3 453.01" fill="none" stroke="#161616" stroke-width="1.6" stroke-linejoin="round" stroke-linecap="round"/>
<path d="M293.3 453.72 L294.1 453.33 L294.9 453.4 L295.7 453.74 L296.5 453.3 L297.3 453.42 L298.1 453.61 L298.9 453.91 L299.7 453.27 L300.5 453.76 L301.3 453.64 L302.1 453.58 L302.9 453.35 L303.7 453.3 L304.5 453.01 L305.3 453.09 L306.1 453.03 L306.9 453.7 L307.7 453.22 L308.5 453.13 L309.3 453.06 L310.1 453.82 L310.9 453.85 L311.7 453.65 L312.5 453.26 L313.3 453.22 L314.1 453.27 L314.9 453.44 L315.7 453.14 L316.5 453.43 L317.3 453.24 L318.1 453.94 L318.9 453.94 L319.7 453.51 L320.5 453.2 L321.3 453.91 L322.1 453.24 L322.9 453.27 L323.7 452.91 L324.5 453.3 L325.3 453.48 L326.1 440.94 L326.9 435.65 L327.7 430.34 L328.5 423.47 L329.3 417.11 L330.1 410.73 L330.9 404.89 L331.7 399.1 L332.5 395.25 L333.3 392.91 L334.1 391.17 L334.9 390.79 L335.7 390.99 L336.5 392.23 L337.3 393.66 L338.1 395.56 L338.9 397.99 L339.7 400.18 L340.5 403.01 L341.3 406.61 L342.1 408.85 L342.9 412.66 L343.7 415.78 L344.5 418.19 L345.3 421.83 L346.1 424.65 L346.9 427.03 L347.7 429.65 L348.5 432.11 L349.3 433.75 L350.1 436.27 L350.9 438.15 L351.7 440.12 L352.5 441.49 L353.3 442.74 L354.1 443.59 L354.9 444.92 L355.7 445.66 L356.5 446.58 L357.3 446.99 L358.1 447.58 L358.9 448.37 L359.7 449.19 L360.5 449.43 L361.3 450.59 L362.1 450.66 L362.9 451.04 L363.7 451.3 L364.5 451.6 L365.3 451.62 L366.1 451.34 L366.9 452.32 L367.7 452.44 L368.5 452.34 L369.3 452.5 L370.1 452.74 L370.9 452.25 L371.7 453.01 L372.5 452.61 L373.3 452.51 L374.1 452.78 L374.9 453.32 L375.7 452.88 L376.5 453.49 L377.3 453.77 L378.1 453.32 L378.9 453.23 L379.7 453.35 L380.5 453.56 L381.3 453.66 L382.1 453.52 L382.9 453.55 L383.7 452.99 L384.5 453.06 L385.3 453.17 L386.1 453.66 L386.9 453.23 L387.7 453.49 L388.5 452.94 L389.3 452.99 L390.1 453.2 L390.9 453.6 L391.7 453.62 L392.5 453.6 L393.3 453.22 L394.1 453.44 L394.9 453.39 L395.7 453.39 L396.5 453.04 L397.3 453.82 L398.1 453.12 L398.9 453.9 L399.7 453.85 L400.5 452.93 L401.3 453.37 L402.1 453.73 L402.9 453.88 L403.7 453.36 L404.5 453.18 L405.3 453.12 L406.1 453.85 L406.9 453.11 L407.7 453.48 L408.5 453.04 L409.3 453.42" fill="none" stroke="#3a2f98" stroke-width="1.5" stroke-linejoin="round" stroke-linecap="round"/>
<path d="M293.3 453.85 L294.1 453.03 L294.9 453.72 L295.7 453.41 L296.5 453.79 L297.3 453.61 L298.1 453.14 L298.9 453.81 L299.7 453.4 L300.5 452.95 L301.3 452.93 L302.1 453.42 L302.9 453.38 L303.7 453.23 L304.5 453.08 L305.3 453.28 L306.1 453.26 L306.9 453.78 L307.7 452.95 L308.5 453.7 L309.3 453.79 L310.1 453.07 L310.9 453.88 L311.7 453.67 L312.5 453.86 L313.3 453.24 L314.1 453.33 L314.9 453.35 L315.7 453.95 L316.5 453.54 L317.3 453.31 L318.1 453.38 L318.9 453.22 L319.7 452.99 L320.5 453.04 L321.3 453.77 L322.1 453.21 L322.9 453.84 L323.7 453.15 L324.5 453.18 L325.3 453.48 L326.1 444.84 L326.9 441.72 L327.7 438.59 L328.5 434.3 L329.3 429.85 L330.1 425.56 L330.9 421.77 L331.7 418.21 L332.5 415.28 L333.3 413.71 L334.1 411.94 L334.9 412.13 L335.7 412.02 L336.5 413 L337.3 413.9 L338.1 414.76 L338.9 416.02 L339.7 418.67 L340.5 419.79 L341.3 422.08 L342.1 423.99 L342.9 426.09 L343.7 428.65 L344.5 430.87 L345.3 432.04 L346.1 434.27 L346.9 435.66 L347.7 437.58 L348.5 439 L349.3 440.3 L350.1 441.71 L350.9 443.01 L351.7 444.8 L352.5 445.31 L353.3 445.85 L354.1 447.26 L354.9 448.02 L355.7 448.11 L356.5 448.4 L357.3 449.03 L358.1 449.45 L358.9 450.16 L359.7 450.29 L360.5 450.78 L361.3 451.08 L362.1 451.62 L362.9 452.14 L363.7 452.18 L364.5 452 L365.3 452.14 L366.1 452.39 L366.9 452.36 L367.7 452.44 L368.5 452.26 L369.3 452.56 L370.1 453.33 L370.9 452.55 L371.7 452.99 L372.5 453.17 L373.3 453.46 L374.1 452.86 L374.9 452.97 L375.7 453 L376.5 453.2 L377.3 453.28 L378.1 453.81 L378.9 453.72 L379.7 453.75 L380.5 452.91 L381.3 452.93 L382.1 453.61 L382.9 453.8 L383.7 453.38 L384.5 453.5 L385.3 452.91 L386.1 453.31 L386.9 453.84 L387.7 453.74 L388.5 453.77 L389.3 453.89 L390.1 453.17 L390.9 453.03 L391.7 453.07 L392.5 453.44 L393.3 453.6 L394.1 453.86 L394.9 453.64 L395.7 453.56 L396.5 453.68 L397.3 453.37 L398.1 453.47 L398.9 452.95 L399.7 453.69 L400.5 453.14 L401.3 453.83 L402.1 453.55 L402.9 453.21 L403.7 453.03 L404.5 453.16 L405.3 453.54 L406.1 453.6 L406.9 453.01 L407.7 452.97 L408.5 453.43 L409.3 453.48" fill="none" stroke="#3d3299" stroke-width="1.5" stroke-linejoin="round" stroke-linecap="round"/>
<path d="M293.3 453.29 L294.1 453.12 L294.9 453.5 L295.7 452.91 L296.5 453.21 L297.3 453.37 L298.1 453.87 L298.9 453.55 L299.7 453.79 L300.5 453.39 L301.3 453.15 L302.1 453.16 L302.9 453.88 L303.7 453.62 L304.5 453.23 L305.3 452.94 L306.1 453.42 L306.9 453.6 L307.7 453.34 L308.5 453.18 L309.3 453.59 L310.1 453.85 L310.9 453.15 L311.7 452.96 L312.5 453.27 L313.3 453.35 L314.1 453.61 L314.9 453.13 L315.7 453.72 L316.5 453.67 L317.3 453.43 L318.1 453.13 L318.9 453.89 L319.7 453.23 L320.5 453.74 L321.3 453.15 L322.1 453.13 L322.9 453.66 L323.7 453.2 L324.5 453.86 L325.3 453.43 L326.1 448.79 L326.9 447.11 L327.7 445.37 L328.5 443.42 L329.3 441.43 L330.1 438.49 L330.9 436.62 L331.7 434.57 L332.5 434.01 L333.3 432.27 L334.1 431.61 L334.9 431.36 L335.7 431.78 L336.5 432.64 L337.3 433.15 L338.1 433.63 L338.9 434.68 L339.7 435.53 L340.5 435.93 L341.3 436.8 L342.1 438.61 L342.9 439.54 L343.7 439.92 L344.5 441.59 L345.3 442.29 L346.1 443.23 L346.9 444.1 L347.7 444.81 L348.5 445.46 L349.3 446.53 L350.1 447.34 L350.9 448.6 L351.7 448.33 L352.5 449.66 L353.3 449.32 L354.1 449.85 L354.9 450.66 L355.7 450.99 L356.5 450.92 L357.3 450.83 L358.1 451.53 L358.9 451.67 L359.7 452.42 L360.5 451.86 L361.3 452.18 L362.1 452.83 L362.9 452.07 L363.7 452.54 L364.5 453.03 L365.3 453.06 L366.1 452.4 L366.9 452.46 L367.7 452.55 L368.5 453.45 L369.3 452.84 L370.1 453.37 L370.9 453.55 L371.7 453.02 L372.5 452.99 L373.3 453.7 L374.1 453.38 L374.9 453.06 L375.7 453.54 L376.5 453.16 L377.3 453.14 L378.1 452.88 L378.9 453.64 L379.7 453.81 L380.5 453.53 L381.3 453.84 L382.1 452.92 L382.9 453.14 L383.7 453.38 L384.5 453.86 L385.3 453.86 L386.1 453.29 L386.9 453.16 L387.7 453.34 L388.5 453.4 L389.3 453.84 L390.1 453.09 L390.9 453.71 L391.7 453.65 L392.5 453.73 L393.3 453.68 L394.1 453.52 L394.9 453.24 L395.7 453.23 L396.5 453.27 L397.3 453.69 L398.1 452.99 L398.9 453.1 L399.7 453.66 L400.5 453.15 L401.3 452.97 L402.1 452.94 L402.9 453.46 L403.7 453.23 L404.5 453.88 L405.3 453.79 L406.1 453.89 L406.9 453.17 L407.7 452.98 L408.5 453 L409.3 453.4" fill="none" stroke="#5148a8" stroke-width="1.4" stroke-linejoin="round" stroke-linecap="round"/>
<path d="M293.3 453.61 L294.1 453.35 L294.9 453.13 L295.7 453.32 L296.5 453.52 L297.3 453.58 L298.1 453.65 L298.9 453.75 L299.7 453.57 L300.5 453.03 L301.3 453.75 L302.1 453.2 L302.9 453.47 L303.7 453.28 L304.5 453.65 L305.3 453.11 L306.1 453.16 L306.9 453.16 L307.7 453.06 L308.5 453.8 L309.3 453.49 L310.1 453.24 L310.9 453.31 L311.7 453.9 L312.5 453.42 L313.3 453.14 L314.1 453.72 L314.9 453.57 L315.7 453.9 L316.5 453.01 L317.3 453.39 L318.1 453.73 L318.9 453.75 L319.7 453.82 L320.5 452.95 L321.3 453.2 L322.1 453.02 L322.9 453.09 L323.7 453.87 L324.5 453.49 L325.3 453.85 L326.1 451.3 L326.9 451.01 L327.7 449.71 L328.5 448.51 L329.3 447.99 L330.1 447.17 L330.9 445.36 L331.7 445 L332.5 444.41 L333.3 443.6 L334.1 443.49 L334.9 443.14 L335.7 443.24 L336.5 443.46 L337.3 444.04 L338.1 444.39 L338.9 444.29 L339.7 444.53 L340.5 445.3 L341.3 446.11 L342.1 446.11 L342.9 446.74 L343.7 447.14 L344.5 448.21 L345.3 448.41 L346.1 448.36 L346.9 448.82 L347.7 449.51 L348.5 450.04 L349.3 450.49 L350.1 450.28 L350.9 450.65 L351.7 451.45 L352.5 451.38 L353.3 451.45 L354.1 451.65 L354.9 452.45 L355.7 451.96 L356.5 452.36 L357.3 452.29 L358.1 452.47 L358.9 453.03 L359.7 453.25 L360.5 452.7 L361.3 452.6 L362.1 453.19 L362.9 452.71 L363.7 452.55 L364.5 453.49 L365.3 453.04 L366.1 453.47 L366.9 453.09 L367.7 453.59 L368.5 453.19 L369.3 452.92 L370.1 452.79 L370.9 453.34 L371.7 453.44 L372.5 453.72 L373.3 452.92 L374.1 453.46 L374.9 453.22 L375.7 453.37 L376.5 453.02 L377.3 453.17 L378.1 453.41 L378.9 453.82 L379.7 453 L380.5 453.39 L381.3 453.7 L382.1 453.87 L382.9 453.1 L383.7 453.03 L384.5 453.85 L385.3 453.88 L386.1 453.39 L386.9 452.96 L387.7 453.83 L388.5 453.29 L389.3 453.81 L390.1 453.52 L390.9 453.73 L391.7 453.06 L392.5 453.69 L393.3 453.13 L394.1 453.31 L394.9 453.75 L395.7 453.73 L396.5 453.09 L397.3 453.12 L398.1 453.3 L398.9 453.42 L399.7 453.29 L400.5 453.03 L401.3 453.15 L402.1 453.63 L402.9 453.8 L403.7 452.94 L404.5 453.46 L405.3 453.66 L406.1 452.94 L406.9 453.74 L407.7 453.02 L408.5 453.5 L409.3 453.45" fill="none" stroke="#4a40a4" stroke-width="1.5" stroke-linejoin="round" stroke-linecap="round"/>
<line x1="293.5" y1="453.6" x2="409.7" y2="453.6" stroke="#3b33a0" stroke-width="2.4" stroke-linecap="butt"/>
<path d="M293.3 453.83 L294.1 453.25 L294.9 453.46 L295.7 453.75 L296.5 453.47 L297.3 453.89 L298.1 453.5 L298.9 453.49 L299.7 452.74 L300.5 453.81 L301.3 453.58 L302.1 453.12 L302.9 454.07 L303.7 454.1 L304.5 453.52 L305.3 453.02 L306.1 453.55 L306.9 452.89 L307.7 452.93 L308.5 453.48 L309.3 452.87 L310.1 453.5 L310.9 453.62 L311.7 452.77 L312.5 453.85 L313.3 452.85 L314.1 454.02 L314.9 454.1 L315.7 453.62 L316.5 452.8 L317.3 453.61 L318.1 453.38 L318.9 454.41 L319.7 452.95 L320.5 454.24 L321.3 454.49 L322.1 454.02 L322.9 454.17 L323.7 453.05 L372.5 454.47 L373.3 453.59 L374.1 454.42 L374.9 454.35 L375.7 453 L376.5 454.12 L377.3 454.38 L378.1 452.82 L378.9 453.33 L379.7 454.06 L380.5 452.99 L381.3 454.31 L382.1 453.19 L382.9 454.17 L383.7 452.96 L384.5 453.6 L385.3 454.36 L386.1 453.07 L386.9 453.17 L387.7 453.61 L388.5 453.27 L389.3 452.77 L390.1 453.03 L390.9 452.99 L391.7 454.39 L392.5 453.92 L393.3 454.31 L394.1 453 L394.9 454.11 L395.7 452.91 L396.5 453.66 L397.3 453.85 L398.1 453.35 L398.9 454.27 L399.7 453.7 L400.5 453.74 L401.3 454.29 L402.1 452.89 L402.9 454.49 L403.7 453.83 L404.5 453.41 L405.3 454.14 L406.1 453.18 L406.9 454.48 L407.7 453.74 L408.5 453.35 L409.3 454.08" fill="none" stroke="#3b33a0" stroke-width="1.2" stroke-linejoin="round" stroke-linecap="round"/>
<ellipse cx="334.9" cy="364.3" rx="2.7" ry="3.4" stroke="#d04a44" stroke-width="1.2" fill="none"/>
<text x="316.6" y="375.9" font-family="'Liberation Serif', serif" font-size="11" font-weight="normal" fill="#2a2a2a" text-anchor="end" textLength="26.5" lengthAdjust="spacing">0 min</text>
<text x="316.6" y="395" font-family="'Liberation Serif', serif" font-size="11" font-weight="normal" fill="#3a3a8e" text-anchor="end" textLength="26.9" lengthAdjust="spacing">9 min</text>
<text x="316.6" y="414.2" font-family="'Liberation Serif', serif" font-size="11" font-weight="normal" fill="#3a3a8e" text-anchor="end" textLength="33.3" lengthAdjust="spacing">12 min</text>
<text x="315.8" y="433.4" font-family="'Liberation Serif', serif" font-size="11" font-weight="normal" fill="#3a3a8e" text-anchor="end" textLength="32.4" lengthAdjust="spacing">14 min</text>
<text x="315.8" y="446.5" font-family="'Liberation Serif', serif" font-size="11" font-weight="normal" fill="#3a3a8e" text-anchor="end" textLength="32.4" lengthAdjust="spacing">17 min</text>
<path d="M574 444.84 L575 444.73 L576 445.52 L577 445.05 L578 446.01 L579 445.56 L580 445.95 L581 446.12 L582 445.16 L583 443.28 L584 424.26 L585 410.33 L586 399.53 L587 389.74 L588 381.38 L589 375 L590 372.1 L591 370.36 L592 368.63 L593 368.76 L594 370.13 L595 370.76 L596 372.14 L597 374.7 L598 377.68 L599 381.82 L600 386.04 L601 391.24 L602 397.07 L603 402.8 L604 408.53 L605 412.63 L606 415.97 L607 420.04 L608 422.27 L609 424.85 L610 427.28 L611 430.16 L612 432.5 L613 434.28 L614 435.52 L615 436.76 L616 437.65 L617 439.26 L618 440.02 L619 440.54 L620 441.48 L621 441.85 L622 442.85 L623 443.1 L624 443 L625 443.96 L626 443.32 L627 443.96 L628 443.94 L629 443.85 L630 443.73 L631 444.53 L632 443.85 L633 444.48 L634 444.97 L635 444.26 L636 444.41 L637 444.9 L638 444.89 L639 445.1 L640 445.35 L641 444.79 L642 445 L643 445.07 L644 444.89 L645 445.8 L646 445.77 L647 445.78" fill="none" stroke="#d42a1e" stroke-width="1.8" stroke-linejoin="round" stroke-linecap="round"/>
<path d="M574 444.41 L575 445.4 L576 445.52 L577 445.47 L578 445.94 L579 445.76 L580 445.54 L581 445.24 L582 444.81 L583 442.65 L584 424.29 L585 411.08 L586 400.19 L587 390.43 L588 381.48 L589 374.83 L590 372.14 L591 369.83 L592 369.26 L593 368.96 L594 368.97 L595 369.85 L596 370.97 L597 371.31 L598 373.68 L599 375.55 L600 379.33 L601 383.38 L602 388.42 L603 393.82 L604 399.72 L605 405.19 L606 410.59 L607 414.02 L608 417.43 L609 421.21 L610 423.76 L611 426.4 L612 428.81 L613 431.36 L614 432.88 L615 435.03 L616 436.39 L617 437.82 L618 438.47 L619 439.68 L620 440.32 L621 440.76 L622 441.28 L623 442.24 L624 442.18 L625 443.45 L626 443.04 L627 443.19 L628 443.45 L629 444.4 L630 443.9 L631 443.77 L632 443.73 L633 443.82 L634 444.56 L635 444.61 L636 444.78 L637 444.91 L638 444.33 L639 444.95 L640 444.81 L641 445.35 L642 445.43 L643 445.59 L644 444.84 L645 445.73 L646 445.86 L647 445.97" fill="none" stroke="#d42a1e" stroke-width="1.8" stroke-linejoin="round" stroke-linecap="round"/>
<ellipse cx="592.4" cy="360.6" rx="2.7" ry="3.3" stroke="#3a3496" stroke-width="1.2" fill="none"/>
<line x1="621.5" y1="364.7" x2="621.5" y2="395" stroke="#161616" stroke-width="1.3" stroke-linecap="butt"/>
<text x="625.2" y="383.9" font-family="'Liberation Serif', serif" font-size="11.5" font-weight="normal" fill="#161616" text-anchor="start" textLength="27.5" lengthAdjust="spacing">6 mN</text>
<line x1="590" y1="467.3" x2="624.8" y2="467.3" stroke="#161616" stroke-width="1.3" stroke-linecap="butt"/>
<text x="588.4" y="463.7" font-family="'Liberation Serif', serif" font-size="11.5" font-weight="normal" fill="#161616" text-anchor="start" textLength="36.4" lengthAdjust="spacing">200 ms</text>
<text x="11.9" y="554.4" font-family="'Liberation Sans', sans-serif" font-size="29" font-weight="bold" fill="#161616" text-anchor="start">e</text>
<line x1="81.9" y1="566.5" x2="81.9" y2="741.5" stroke="#161616" stroke-width="1.2" stroke-linecap="butt"/>
<line x1="78.4" y1="567" x2="81.9" y2="567" stroke="#161616" stroke-width="1.2" stroke-linecap="butt"/>
<text x="73.2" y="571.5" font-family="'Liberation Sans', sans-serif" font-size="13.5" font-weight="normal" fill="#161616" text-anchor="end" textLength="19.1" lengthAdjust="spacing">1.0</text>
<line x1="78.4" y1="601.3" x2="81.9" y2="601.3" stroke="#161616" stroke-width="1.2" stroke-linecap="butt"/>
<text x="73.2" y="605.8" font-family="'Liberation Sans', sans-serif" font-size="13.5" font-weight="normal" fill="#161616" text-anchor="end" textLength="18.5" lengthAdjust="spacing">0.8</text>
<line x1="78.4" y1="635.3" x2="81.9" y2="635.3" stroke="#161616" stroke-width="1.2" stroke-linecap="butt"/>
<text x="73.2" y="639.8" font-family="'Liberation Sans', sans-serif" font-size="13.5" font-weight="normal" fill="#161616" text-anchor="end" textLength="18.5" lengthAdjust="spacing">0.6</text>
<line x1="78.4" y1="669.4" x2="81.9" y2="669.4" stroke="#161616" stroke-width="1.2" stroke-linecap="butt"/>
<text x="73.2" y="673.9" font-family="'Liberation Sans', sans-serif" font-size="13.5" font-weight="normal" fill="#161616" text-anchor="end" textLength="18.5" lengthAdjust="spacing">0.4</text>
<line x1="78.4" y1="703.4" x2="81.9" y2="703.4" stroke="#161616" stroke-width="1.2" stroke-linecap="butt"/>
<text x="73.2" y="707.9" font-family="'Liberation Sans', sans-serif" font-size="13.5" font-weight="normal" fill="#161616" text-anchor="end" textLength="18.5" lengthAdjust="spacing">0.2</text>
<line x1="78.4" y1="738.2" x2="81.9" y2="738.2" stroke="#161616" stroke-width="1.2" stroke-linecap="butt"/>
<text x="73.2" y="742.7" font-family="'Liberation Sans', sans-serif" font-size="13.5" font-weight="normal" fill="#161616" text-anchor="end" textLength="18.5" lengthAdjust="spacing">0.0</text>
<line x1="86.9" y1="741.3" x2="359.1" y2="741.3" stroke="#161616" stroke-width="1.2" stroke-linecap="butt"/>
<line x1="98.36" y1="741.3" x2="98.36" y2="743.3" stroke="#161616" stroke-width="1.2" stroke-linecap="butt"/>
<line x1="107.73" y1="741.3" x2="107.73" y2="743.3" stroke="#161616" stroke-width="1.2" stroke-linecap="butt"/>
<line x1="115.66" y1="741.3" x2="115.66" y2="743.3" stroke="#161616" stroke-width="1.2" stroke-linecap="butt"/>
<line x1="122.53" y1="741.3" x2="122.53" y2="743.3" stroke="#161616" stroke-width="1.2" stroke-linecap="butt"/>
<line x1="128.58" y1="741.3" x2="128.58" y2="743.3" stroke="#161616" stroke-width="1.2" stroke-linecap="butt"/>
<line x1="134" y1="741.3" x2="134" y2="745" stroke="#161616" stroke-width="1.2" stroke-linecap="butt"/>
<line x1="169.64" y1="741.3" x2="169.64" y2="743.3" stroke="#161616" stroke-width="1.2" stroke-linecap="butt"/>
<line x1="190.49" y1="741.3" x2="190.49" y2="743.3" stroke="#161616" stroke-width="1.2" stroke-linecap="butt"/>
<line x1="205.28" y1="741.3" x2="205.28" y2="743.3" stroke="#161616" stroke-width="1.2" stroke-linecap="butt"/>
<line x1="216.76" y1="741.3" x2="216.76" y2="743.3" stroke="#161616" stroke-width="1.2" stroke-linecap="butt"/>
<line x1="226.13" y1="741.3" x2="226.13" y2="743.3" stroke="#161616" stroke-width="1.2" stroke-linecap="butt"/>
<line x1="234.06" y1="741.3" x2="234.06" y2="743.3" stroke="#161616" stroke-width="1.2" stroke-linecap="butt"/>
<line x1="240.93" y1="741.3" x2="240.93" y2="743.3" stroke="#161616" stroke-width="1.2" stroke-linecap="butt"/>
<line x1="246.98" y1="741.3" x2="246.98" y2="743.3" stroke="#161616" stroke-width="1.2" stroke-linecap="butt"/>
<line x1="252.4" y1="741.3" x2="252.4" y2="745" stroke="#161616" stroke-width="1.2" stroke-linecap="butt"/>
<line x1="288.04" y1="741.3" x2="288.04" y2="743.3" stroke="#161616" stroke-width="1.2" stroke-linecap="butt"/>
<line x1="308.89" y1="741.3" x2="308.89" y2="743.3" stroke="#161616" stroke-width="1.2" stroke-linecap="butt"/>
<line x1="323.68" y1="741.3" x2="323.68" y2="743.3" stroke="#161616" stroke-width="1.2" stroke-linecap="butt"/>
<line x1="335.16" y1="741.3" x2="335.16" y2="743.3" stroke="#161616" stroke-width="1.2" stroke-linecap="butt"/>
<line x1="344.53" y1="741.3" x2="344.53" y2="743.3" stroke="#161616" stroke-width="1.2" stroke-linecap="butt"/>
<line x1="352.46" y1="741.3" x2="352.46" y2="743.3" stroke="#161616" stroke-width="1.2" stroke-linecap="butt"/>
<text x="133.3" y="762.3" font-family="'Liberation Sans', sans-serif" font-size="13" font-weight="normal" fill="#161616" text-anchor="middle" textLength="25.2" lengthAdjust="spacing">0.01</text>
<text x="251.5" y="762.3" font-family="'Liberation Sans', sans-serif" font-size="13" font-weight="normal" fill="#161616" text-anchor="middle" textLength="17.8" lengthAdjust="spacing">0.1</text>
<circle cx="99.1" cy="575.7" r="5.3" stroke="#161616" stroke-width="1.2" fill="#fff"/>
<line x1="154.3" y1="580.2" x2="154.3" y2="625.4" stroke="#161616" stroke-width="1.1" stroke-linecap="butt"/>
<circle cx="154.3" cy="602.7" r="5.3" stroke="#161616" stroke-width="1.2" fill="#fff"/>
<line x1="187.2" y1="661.1" x2="187.2" y2="698.7" stroke="#161616" stroke-width="1.1" stroke-linecap="butt"/>
<circle cx="187.2" cy="679.3" r="5.3" stroke="#161616" stroke-width="1.2" fill="#fff"/>
<circle cx="310.6" cy="728" r="5.3" stroke="#161616" stroke-width="1.2" fill="#fff"/>
<circle cx="346.1" cy="727.6" r="5.3" stroke="#161616" stroke-width="1.2" fill="#fff"/>
<path d="M98.6 575.8 L101.7 576 L104.8 576.25 L107.9 576.55 L111 576.92 L114.11 577.37 L117.21 577.92 L120.31 578.57 L123.41 579.37 L126.51 580.34 L129.61 581.5 L132.71 582.89 L135.81 584.56 L138.92 586.56 L142.02 588.92 L145.12 591.71 L148.22 594.98 L151.32 598.79 L154.42 603.16 L157.52 608.15 L160.62 613.76 L163.73 619.99 L166.83 626.8 L169.93 634.12 L173.03 641.84 L176.13 649.85 L179.23 657.99 L182.33 666.09 L185.44 674 L188.54 681.57 L191.64 688.7 L194.74 695.27 L197.84 701.25 L200.94 706.61 L204.04 711.34 L207.14 715.48 L210.25 719.06 L213.35 722.13 L216.45 724.74 L219.55 726.95 L222.65 728.8 L225.75 730.36 L228.85 731.65 L231.95 732.73 L235.05 733.62 L238.16 734.36 L241.26 734.97 L244.36 735.47 L247.46 735.89 L250.56 736.23 L253.66 736.51 L256.76 736.74 L259.87 736.92 L262.97 737.08 L266.07 737.21 L269.17 737.31 L272.27 737.39 L275.37 737.46 L278.47 737.52 L281.57 737.57 L284.67 737.61 L287.78 737.64 L290.88 737.66 L293.98 737.68 L297.08 737.7 L300.18 737.72 L303.28 737.73 L306.38 737.74 L309.49 737.74 L312.59 737.75 L315.69 737.76 L318.79 737.76 L321.89 737.76 L324.99 737.77 L328.09 737.77 L331.19 737.77 L334.29 737.77 L337.4 737.77 L340.5 737.78 L343.6 737.78 L346.7 737.78" fill="none" stroke="#161616" stroke-width="1.8" stroke-linejoin="round" stroke-linecap="round"/>
<text x="199.8" y="630.5" font-family="'Liberation Serif', serif" font-size="15" font-weight="normal" fill="#161616" text-anchor="start" textLength="88.2" lengthAdjust="spacing">IC<tspan font-size="10" dy="5">50</tspan><tspan dy="-5"> = 23 nM</tspan></text>
<text x="86.3" y="786.3" font-family="'Liberation Serif', serif" font-size="15" font-weight="bold" fill="#161616" text-anchor="start" textLength="280.1" lengthAdjust="spacing">αC-conotoxin PrXA concentration (µM)</text>
<text transform="translate(20.5 662.3) rotate(-90)" font-family="'Liberation Serif', serif" font-size="15.5" font-weight="bold" fill="#161616" text-anchor="middle" textLength="81.1" lengthAdjust="spacing">Normalized</text>
<text transform="translate(39.4 662.7) rotate(-90)" font-family="'Liberation Serif', serif" font-size="15.5" font-weight="bold" fill="#161616" text-anchor="middle" textLength="127.7" lengthAdjust="spacing">twitch contraction</text>
<text x="374.8" y="554.6" font-family="'Liberation Sans', sans-serif" font-size="29" font-weight="bold" fill="#161616" text-anchor="start">f</text>
<line x1="471" y1="565.3" x2="471" y2="739.5" stroke="#161616" stroke-width="1.2" stroke-linecap="butt"/>
<line x1="467" y1="575.3" x2="471" y2="575.3" stroke="#161616" stroke-width="1.2" stroke-linecap="butt"/>
<text x="462.6" y="580.2" font-family="'Liberation Sans', sans-serif" font-size="12.5" font-weight="normal" fill="#161616" text-anchor="end" textLength="14" lengthAdjust="spacing">80</text>
<line x1="467" y1="616.4" x2="471" y2="616.4" stroke="#161616" stroke-width="1.2" stroke-linecap="butt"/>
<text x="462.6" y="621.3" font-family="'Liberation Sans', sans-serif" font-size="12.5" font-weight="normal" fill="#161616" text-anchor="end" textLength="13.6" lengthAdjust="spacing">60</text>
<line x1="467" y1="657.1" x2="471" y2="657.1" stroke="#161616" stroke-width="1.2" stroke-linecap="butt"/>
<text x="462.6" y="662" font-family="'Liberation Sans', sans-serif" font-size="12.5" font-weight="normal" fill="#161616" text-anchor="end" textLength="13.6" lengthAdjust="spacing">40</text>
<line x1="467" y1="698.4" x2="471" y2="698.4" stroke="#161616" stroke-width="1.2" stroke-linecap="butt"/>
<text x="462.6" y="703.3" font-family="'Liberation Sans', sans-serif" font-size="12.5" font-weight="normal" fill="#161616" text-anchor="end" textLength="13.6" lengthAdjust="spacing">20</text>
<line x1="467" y1="739.4" x2="471" y2="739.4" stroke="#161616" stroke-width="1.2" stroke-linecap="butt"/>
<text x="462.6" y="744.3" font-family="'Liberation Sans', sans-serif" font-size="12.5" font-weight="normal" fill="#161616" text-anchor="end" textLength="6.8" lengthAdjust="spacing">0</text>
<line x1="474.8" y1="739.5" x2="669.3" y2="739.5" stroke="#161616" stroke-width="1.3" stroke-linecap="butt"/>
<line x1="515" y1="581.9" x2="515" y2="604.4" stroke="#161616" stroke-width="1.2" stroke-linecap="butt"/>
<line x1="509.8" y1="581.9" x2="520.2" y2="581.9" stroke="#161616" stroke-width="1.2" stroke-linecap="butt"/>
<rect x="498" y="604.4" width="34.2" height="135.1" fill="#ffffff" stroke="#161616" stroke-width="1.3"/>
<line x1="515" y1="739.5" x2="515" y2="743.5" stroke="#161616" stroke-width="1.2" stroke-linecap="butt"/>
<line x1="572.5" y1="718.7" x2="572.5" y2="733.1" stroke="#161616" stroke-width="1.2" stroke-linecap="butt"/>
<line x1="567.3" y1="718.7" x2="577.7" y2="718.7" stroke="#161616" stroke-width="1.2" stroke-linecap="butt"/>
<rect x="555.1" y="733.1" width="34.7" height="6.4" fill="#121212" stroke="#161616" stroke-width="1.3"/>
<line x1="572.5" y1="739.5" x2="572.5" y2="743.5" stroke="#161616" stroke-width="1.2" stroke-linecap="butt"/>
<line x1="629.6" y1="573.6" x2="629.6" y2="614" stroke="#161616" stroke-width="1.2" stroke-linecap="butt"/>
<line x1="624.4" y1="573.6" x2="634.8" y2="573.6" stroke="#161616" stroke-width="1.2" stroke-linecap="butt"/>
<rect x="612.3" y="614" width="34.4" height="125.5" fill="#cccccc" stroke="#161616" stroke-width="1.3"/>
<line x1="629.6" y1="739.5" x2="629.6" y2="743.5" stroke="#161616" stroke-width="1.2" stroke-linecap="butt"/>
<line x1="509.9" y1="553.9" x2="628.3" y2="553.9" stroke="#161616" stroke-width="1.3" stroke-linecap="butt"/>
<text x="563.5" y="549.7" font-family="'Liberation Serif', serif" font-size="10.5" font-weight="normal" fill="#161616" text-anchor="middle" textLength="15.5" lengthAdjust="spacing">NS</text>
<line x1="509.9" y1="573.6" x2="564.3" y2="573.6" stroke="#161616" stroke-width="1.3" stroke-linecap="butt"/>
<text x="540.2" y="575" font-family="'Liberation Sans', sans-serif" font-size="13" font-weight="normal" fill="#161616" text-anchor="middle" textLength="17.2" lengthAdjust="spacing">***</text>
<text transform="translate(518.4 753.8) rotate(-45)" font-family="'Liberation Serif', serif" font-size="13.5" font-weight="bold" fill="#161616" text-anchor="end" textLength="45.72" lengthAdjust="spacing">Control</text>
<text transform="translate(579 748) rotate(-45)" font-family="'Liberation Serif', serif" font-size="13.5" font-weight="bold" fill="#161616" text-anchor="end" textLength="52.83" lengthAdjust="spacing">+D7 apt.</text>
<text transform="translate(634.6 749.3) rotate(-45)" font-family="'Liberation Serif', serif" font-size="13.5" font-weight="bold" fill="#161616" text-anchor="end" textLength="51.84" lengthAdjust="spacing">+B4 apt.</text>
<text transform="translate(419.7 661) rotate(-90)" font-family="'Liberation Serif', serif" font-size="15" font-weight="bold" fill="#161616" text-anchor="middle" textLength="212.4" lengthAdjust="spacing">αC-conotoxin PrXA inhibition</text>
<text transform="translate(437.5 660.8) rotate(-90)" font-family="'Liberation Serif', serif" font-size="15" font-weight="bold" fill="#161616" text-anchor="middle" textLength="130" lengthAdjust="spacing">of contraction (%)</text>
<text x="12.9" y="820.3" font-family="'Liberation Sans', sans-serif" font-size="29" font-weight="bold" fill="#161616" text-anchor="start">g</text>
<line x1="82.6" y1="829.5" x2="82.6" y2="1005" stroke="#161616" stroke-width="1.2" stroke-linecap="butt"/>
<line x1="79.1" y1="845.4" x2="82.6" y2="845.4" stroke="#161616" stroke-width="1.2" stroke-linecap="butt"/>
<text x="73" y="849.6" font-family="'Liberation Serif', serif" font-size="13" font-weight="normal" fill="#161616" text-anchor="end" textLength="18.3" lengthAdjust="spacing">1.0</text>
<line x1="79.1" y1="877.7" x2="82.6" y2="877.7" stroke="#161616" stroke-width="1.2" stroke-linecap="butt"/>
<text x="73" y="881.9" font-family="'Liberation Serif', serif" font-size="13" font-weight="normal" fill="#161616" text-anchor="end" textLength="16.5" lengthAdjust="spacing">0.8</text>
<line x1="79.1" y1="909.1" x2="82.6" y2="909.1" stroke="#161616" stroke-width="1.2" stroke-linecap="butt"/>
<text x="73" y="913.3" font-family="'Liberation Serif', serif" font-size="13" font-weight="normal" fill="#161616" text-anchor="end" textLength="16.5" lengthAdjust="spacing">0.6</text>
<line x1="79.1" y1="941.4" x2="82.6" y2="941.4" stroke="#161616" stroke-width="1.2" stroke-linecap="butt"/>
<text x="73" y="945.6" font-family="'Liberation Serif', serif" font-size="13" font-weight="normal" fill="#161616" text-anchor="end" textLength="16.5" lengthAdjust="spacing">0.4</text>
<line x1="79.1" y1="972.9" x2="82.6" y2="972.9" stroke="#161616" stroke-width="1.2" stroke-linecap="butt"/>
<text x="73" y="977.1" font-family="'Liberation Serif', serif" font-size="13" font-weight="normal" fill="#161616" text-anchor="end" textLength="16.5" lengthAdjust="spacing">0.2</text>
<line x1="79.1" y1="1004.9" x2="82.6" y2="1004.9" stroke="#161616" stroke-width="1.2" stroke-linecap="butt"/>
<text x="73" y="1009.1" font-family="'Liberation Serif', serif" font-size="13" font-weight="normal" fill="#161616" text-anchor="end" textLength="16.5" lengthAdjust="spacing">0.0</text>
<line x1="88.2" y1="1005" x2="361.3" y2="1005" stroke="#161616" stroke-width="1.2" stroke-linecap="butt"/>
<line x1="88.07" y1="1005" x2="88.07" y2="1007.3" stroke="#161616" stroke-width="1.2" stroke-linecap="butt"/>
<line x1="99.01" y1="1005" x2="99.01" y2="1007.3" stroke="#161616" stroke-width="1.2" stroke-linecap="butt"/>
<line x1="108.8" y1="1005" x2="108.8" y2="1009" stroke="#161616" stroke-width="1.2" stroke-linecap="butt"/>
<line x1="173.19" y1="1005" x2="173.19" y2="1007.3" stroke="#161616" stroke-width="1.2" stroke-linecap="butt"/>
<line x1="210.86" y1="1005" x2="210.86" y2="1007.3" stroke="#161616" stroke-width="1.2" stroke-linecap="butt"/>
<line x1="237.58" y1="1005" x2="237.58" y2="1007.3" stroke="#161616" stroke-width="1.2" stroke-linecap="butt"/>
<line x1="258.31" y1="1005" x2="258.31" y2="1007.3" stroke="#161616" stroke-width="1.2" stroke-linecap="butt"/>
<line x1="275.25" y1="1005" x2="275.25" y2="1007.3" stroke="#161616" stroke-width="1.2" stroke-linecap="butt"/>
<line x1="289.57" y1="1005" x2="289.57" y2="1007.3" stroke="#161616" stroke-width="1.2" stroke-linecap="butt"/>
<line x1="301.97" y1="1005" x2="301.97" y2="1007.3" stroke="#161616" stroke-width="1.2" stroke-linecap="butt"/>
<line x1="312.91" y1="1005" x2="312.91" y2="1007.3" stroke="#161616" stroke-width="1.2" stroke-linecap="butt"/>
<line x1="322.7" y1="1005" x2="322.7" y2="1009" stroke="#161616" stroke-width="1.2" stroke-linecap="butt"/>
<text x="109.1" y="1027.9" font-family="'Liberation Serif', serif" font-size="12.5" font-weight="normal" fill="#161616" text-anchor="middle" textLength="24.6" lengthAdjust="spacing">0.01</text>
<text x="322.5" y="1027.9" font-family="'Liberation Serif', serif" font-size="12.5" font-weight="normal" fill="#161616" text-anchor="middle" textLength="16" lengthAdjust="spacing">0.1</text>
<circle cx="112.7" cy="845.7" r="5.3" stroke="#161616" stroke-width="1.2" fill="#fff"/>
<circle cx="145.4" cy="851.3" r="5.3" stroke="#161616" stroke-width="1.2" fill="#fff"/>
<circle cx="177.1" cy="865.4" r="5.3" stroke="#161616" stroke-width="1.2" fill="#fff"/>
<circle cx="210.8" cy="884.1" r="5.3" stroke="#161616" stroke-width="1.2" fill="#fff"/>
<circle cx="236.7" cy="887.8" r="5.3" stroke="#161616" stroke-width="1.2" fill="#fff"/>
<circle cx="262.5" cy="917" r="5.3" stroke="#161616" stroke-width="1.2" fill="#fff"/>
<circle cx="275.4" cy="930.1" r="5.3" stroke="#161616" stroke-width="1.2" fill="#fff"/>
<circle cx="293.5" cy="943.1" r="5.3" stroke="#161616" stroke-width="1.2" fill="#fff"/>
<circle cx="306.1" cy="960.9" r="5.3" stroke="#161616" stroke-width="1.2" fill="#fff"/>
<circle cx="316.8" cy="973.3" r="5.3" stroke="#161616" stroke-width="1.2" fill="#fff"/>
<circle cx="326.7" cy="990.2" r="5.3" stroke="#161616" stroke-width="1.2" fill="#fff"/>
<circle cx="335" cy="994.9" r="5.3" stroke="#161616" stroke-width="1.2" fill="#fff"/>
<path d="M88.3 852.75 L91.38 852.8 L94.46 852.85 L97.54 852.91 L100.61 852.97 L103.69 853.05 L106.77 853.12 L109.85 853.21 L112.93 853.3 L116.01 853.41 L119.09 853.52 L122.17 853.65 L125.25 853.78 L128.32 853.94 L131.4 854.1 L134.48 854.28 L137.56 854.48 L140.64 854.7 L143.72 854.94 L146.8 855.21 L149.88 855.49 L152.95 855.81 L156.03 856.16 L159.11 856.54 L162.19 856.95 L165.27 857.41 L168.35 857.9 L171.43 858.44 L174.5 859.04 L177.58 859.68 L180.66 860.39 L183.74 861.15 L186.82 861.99 L189.9 862.89 L192.98 863.88 L196.06 864.95 L199.13 866.1 L202.21 867.35 L205.29 868.7 L208.37 870.15 L211.45 871.72 L214.53 873.4 L217.61 875.2 L220.69 877.12 L223.76 879.17 L226.84 881.36 L229.92 883.67 L233 886.12 L236.08 888.71 L239.16 891.42 L242.24 894.27 L245.32 897.24 L248.39 900.33 L251.47 903.53 L254.55 906.83 L257.63 910.23 L260.71 913.7 L263.79 917.24 L266.87 920.83 L269.95 924.46 L273.02 928.1 L276.1 931.75 L279.18 935.39 L282.26 938.99 L285.34 942.55 L288.42 946.05 L291.5 949.47 L294.58 952.8 L297.66 956.04 L300.73 959.17 L303.81 962.18 L306.89 965.07 L309.97 967.83 L313.05 970.46 L316.13 972.96 L319.21 975.32 L322.28 977.55 L325.36 979.64 L328.44 981.61 L331.52 983.45 L334.6 985.17" fill="none" stroke="#161616" stroke-width="1.8" stroke-linejoin="round" stroke-linecap="round"/>
<text x="113.2" y="955.5" font-family="'Liberation Serif', serif" font-size="15" font-weight="normal" fill="#161616" text-anchor="start" textLength="86" lengthAdjust="spacing">IC<tspan font-size="10" dy="5">50</tspan><tspan dy="-5"> = 58 nM</tspan></text>
<text x="115.3" y="1049.8" font-family="'Liberation Serif', serif" font-size="15" font-weight="bold" fill="#161616" text-anchor="start" textLength="218.4" lengthAdjust="spacing">Waglerin 1 concentration (µM)</text>
<text transform="translate(20.2 917.6) rotate(-90)" font-family="'Liberation Serif', serif" font-size="15.5" font-weight="bold" fill="#161616" text-anchor="middle" textLength="79.7" lengthAdjust="spacing">Normalized</text>
<text transform="translate(39.4 917.2) rotate(-90)" font-family="'Liberation Serif', serif" font-size="15.5" font-weight="bold" fill="#161616" text-anchor="middle" textLength="125.9" lengthAdjust="spacing">twitch contraction</text>
<text x="373.7" y="823.7" font-family="'Liberation Sans', sans-serif" font-size="29" font-weight="bold" fill="#161616" text-anchor="start">h</text>
<line x1="472.7" y1="828.5" x2="472.7" y2="1004" stroke="#161616" stroke-width="1.2" stroke-linecap="butt"/>
<line x1="468.7" y1="842.1" x2="472.7" y2="842.1" stroke="#161616" stroke-width="1.2" stroke-linecap="butt"/>
<text x="463.3" y="846.9" font-family="'Liberation Sans', sans-serif" font-size="12.5" font-weight="normal" fill="#161616" text-anchor="end" textLength="16.1" lengthAdjust="spacing">60</text>
<line x1="468.7" y1="868.8" x2="472.7" y2="868.8" stroke="#161616" stroke-width="1.2" stroke-linecap="butt"/>
<text x="463.3" y="873.6" font-family="'Liberation Sans', sans-serif" font-size="12.5" font-weight="normal" fill="#161616" text-anchor="end" textLength="14.5" lengthAdjust="spacing">50</text>
<line x1="468.7" y1="895.8" x2="472.7" y2="895.8" stroke="#161616" stroke-width="1.2" stroke-linecap="butt"/>
<text x="463.3" y="900.6" font-family="'Liberation Sans', sans-serif" font-size="12.5" font-weight="normal" fill="#161616" text-anchor="end" textLength="14.5" lengthAdjust="spacing">40</text>
<line x1="468.7" y1="922.5" x2="472.7" y2="922.5" stroke="#161616" stroke-width="1.2" stroke-linecap="butt"/>
<text x="463.3" y="927.3" font-family="'Liberation Sans', sans-serif" font-size="12.5" font-weight="normal" fill="#161616" text-anchor="end" textLength="14.5" lengthAdjust="spacing">30</text>
<line x1="468.7" y1="949.7" x2="472.7" y2="949.7" stroke="#161616" stroke-width="1.2" stroke-linecap="butt"/>
<text x="463.3" y="954.5" font-family="'Liberation Sans', sans-serif" font-size="12.5" font-weight="normal" fill="#161616" text-anchor="end" textLength="14.5" lengthAdjust="spacing">20</text>
<line x1="468.7" y1="976.7" x2="472.7" y2="976.7" stroke="#161616" stroke-width="1.2" stroke-linecap="butt"/>
<text x="463.3" y="981.5" font-family="'Liberation Sans', sans-serif" font-size="12.5" font-weight="normal" fill="#161616" text-anchor="end" textLength="14.5" lengthAdjust="spacing">10</text>
<line x1="468.7" y1="1003.6" x2="472.7" y2="1003.6" stroke="#161616" stroke-width="1.2" stroke-linecap="butt"/>
<text x="463.3" y="1008.4" font-family="'Liberation Sans', sans-serif" font-size="12.5" font-weight="normal" fill="#161616" text-anchor="end" textLength="7.2" lengthAdjust="spacing">0</text>
<line x1="479" y1="1004" x2="673" y2="1004" stroke="#161616" stroke-width="2.2" stroke-linecap="butt"/>
<line x1="535" y1="838.2" x2="535" y2="849.1" stroke="#161616" stroke-width="1.2" stroke-linecap="butt"/>
<line x1="528.5" y1="838.2" x2="541.5" y2="838.2" stroke="#161616" stroke-width="1.2" stroke-linecap="butt"/>
<rect x="509.2" y="849.1" width="51.7" height="154.9" fill="#ffffff" stroke="#161616" stroke-width="1.3"/>
<line x1="535" y1="1004" x2="535" y2="1007.6" stroke="#161616" stroke-width="1.2" stroke-linecap="butt"/>
<line x1="620.8" y1="834.3" x2="620.8" y2="873" stroke="#161616" stroke-width="1.2" stroke-linecap="butt"/>
<line x1="615.6" y1="834.3" x2="626" y2="834.3" stroke="#161616" stroke-width="1.2" stroke-linecap="butt"/>
<rect x="595.4" y="873" width="51.9" height="131" fill="#141414" stroke="#161616" stroke-width="1.3"/>
<line x1="620.8" y1="1004" x2="620.8" y2="1007.6" stroke="#161616" stroke-width="1.2" stroke-linecap="butt"/>
<line x1="534.5" y1="825.8" x2="622.6" y2="825.8" stroke="#161616" stroke-width="1.3" stroke-linecap="butt"/>
<text x="580.3" y="821.9" font-family="'Liberation Serif', serif" font-size="10.5" font-weight="normal" fill="#161616" text-anchor="middle" textLength="14" lengthAdjust="spacing">NS</text>
<text transform="translate(538.6 1020.6) rotate(-45)" font-family="'Liberation Serif', serif" font-size="13.5" font-weight="bold" fill="#161616" text-anchor="end" textLength="44.46" lengthAdjust="spacing">Control</text>
<text transform="translate(628.8 1013) rotate(-45)" font-family="'Liberation Serif', serif" font-size="13.5" font-weight="bold" fill="#161616" text-anchor="end" textLength="52.99" lengthAdjust="spacing">+D7 apt.</text>
<text transform="translate(410.5 916.7) rotate(-90)" font-family="'Liberation Serif', serif" font-size="15" font-weight="bold" fill="#161616" text-anchor="middle" textLength="150.9" lengthAdjust="spacing">Waglerin 1 inhibition</text>
<text transform="translate(430 916) rotate(-90)" font-family="'Liberation Serif', serif" font-size="15" font-weight="bold" fill="#161616" text-anchor="middle" textLength="130" lengthAdjust="spacing">of contraction (%)</text>
</svg>
</body></html>
